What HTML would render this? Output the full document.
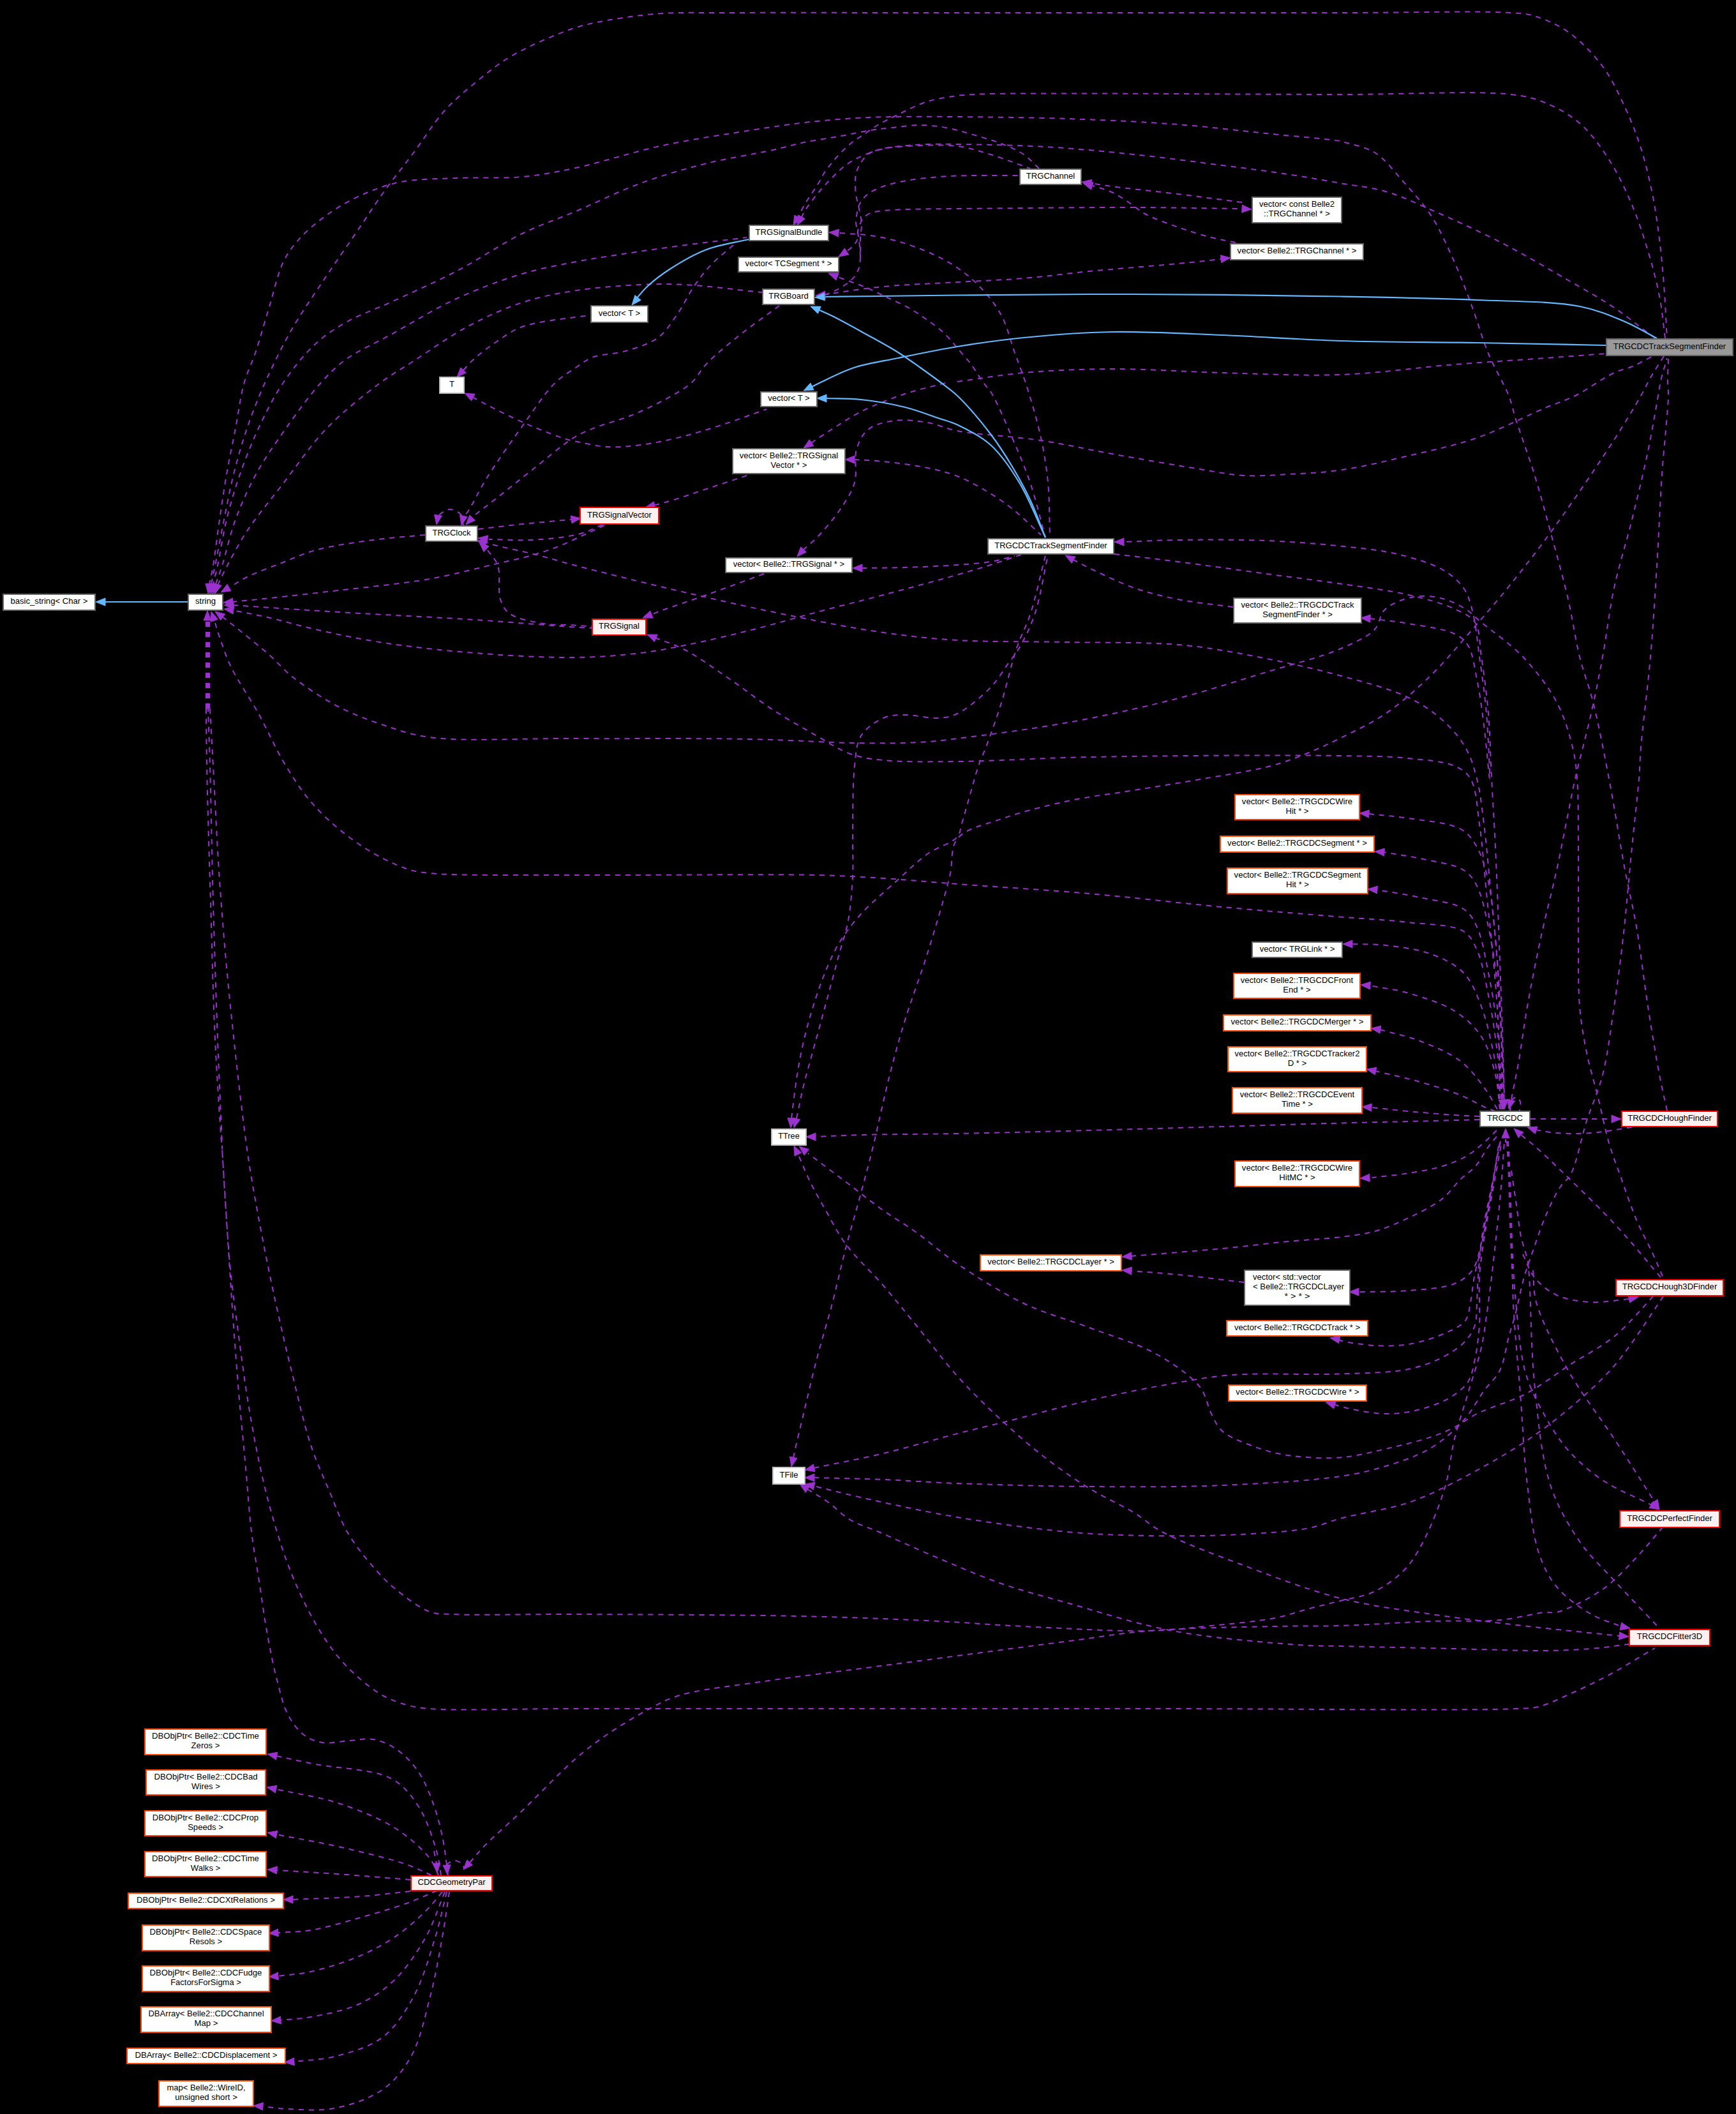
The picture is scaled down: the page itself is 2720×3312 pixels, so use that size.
<!DOCTYPE html><html><head><meta charset="utf-8"><style>html,body{margin:0;padding:0;background:#000;width:2720px;height:3312px;overflow:hidden}svg{display:block}text{font-family:"Liberation Sans",sans-serif;font-size:13.2px;fill:#000}</style></head><body>
<svg width="2720" height="3312" viewBox="0 0 2720 3312">
<rect width="2720" height="3312" fill="#000"/>
<g fill="none" stroke="#9a32cd" stroke-width="2" stroke-dasharray="8.2,7.8">
<path d="M1946.0 317.0 C1912.7 312.7 1879.7 308.1 1846.0 304.0 C1811.7 299.8 1766.7 295.4 1742.0 292.0 C1728.3 290.1 1720.7 288.7 1710.0 287.0"/>
<path d="M1936.0 380.0 C1923.3 377.3 1911.6 375.5 1898.0 372.0 C1881.9 367.8 1863.2 362.1 1846.0 356.0 C1828.5 349.8 1807.7 342.5 1794.0 335.0 C1784.1 329.6 1778.4 323.5 1770.0 318.0 C1761.1 312.2 1751.8 305.5 1742.0 301.0 C1732.4 296.6 1722.0 294.3 1712.0 291.0"/>
<path d="M726.0 823.0 C724.7 817.3 725.4 810.1 722.0 806.0 C718.5 801.7 710.5 798.0 705.0 798.0 C699.8 798.0 693.2 802.5 690.0 805.0 C688.0 806.6 687.3 808.3 686.0 810.0"/>
<path d="M666.0 838.0 C638.7 840.7 611.9 842.2 584.0 846.0 C554.6 850.0 519.8 854.9 494.0 862.0 C473.7 867.6 458.7 875.1 441.0 882.0 C423.0 889.0 401.7 896.7 387.0 904.0 C376.2 909.4 369.0 914.7 360.0 920.0"/>
<path d="M947.0 823.0 C935.7 828.3 925.0 833.5 913.0 839.0 C899.5 845.1 884.6 852.5 870.0 858.0 C855.6 863.5 840.7 868.0 826.0 872.0 C811.7 875.9 800.6 877.9 783.0 882.0 C754.8 888.5 712.3 900.1 673.0 907.0 C628.6 914.8 574.2 919.7 530.0 925.0 C491.8 929.5 453.4 933.7 423.0 937.0 C400.4 939.4 383.7 941.0 364.0 943.0"/>
<path d="M749.5 829.0 C769.3 826.7 789.8 824.0 809.0 822.0 C826.9 820.1 845.5 818.4 861.0 817.0 C873.5 815.8 883.7 815.0 895.0 814.0"/>
<path d="M944.0 822.0 C933.7 826.3 923.8 831.7 913.0 835.0 C901.9 838.4 890.9 840.2 878.0 842.0 C862.4 844.1 844.0 845.5 826.0 846.0 C806.7 846.6 786.0 845.3 766.0 845.0"/>
<path d="M1481.0 600.0 C1460.0 605.7 1439.3 609.8 1418.0 617.0 C1395.3 624.6 1369.9 634.5 1349.0 645.0 C1330.3 654.4 1312.7 666.7 1298.0 676.0 C1286.6 683.3 1278.0 689.3 1268.0 696.0"/>
<path d="M1170.0 745.0 C1149.0 752.0 1126.9 759.4 1107.0 766.0 C1089.1 772.0 1071.1 778.4 1056.0 783.0 C1044.1 786.6 1034.7 789.0 1024.0 792.0"/>
<path d="M1197.0 899.0 C1167.0 910.0 1135.0 922.0 1107.0 932.0 C1082.5 940.7 1053.5 950.3 1038.0 956.0 C1030.0 958.9 1026.0 960.7 1020.0 963.0"/>
<path d="M1932.0 951.0 C1903.3 947.0 1872.9 944.4 1846.0 939.0 C1821.6 934.1 1799.8 929.0 1777.0 921.0 C1753.4 912.8 1724.8 898.5 1707.0 890.0 C1695.8 884.6 1689.0 880.7 1680.0 876.0"/>
<path d="M325.5 976.0 L325.5 974.0"/>
<path d="M680.0 2900.0 L684.0 2920.0"/>
<path d="M691.0 2938.0 C688.7 2925.3 688.2 2914.4 684.0 2900.0 C678.1 2879.7 668.1 2848.7 655.0 2829.0 C643.4 2811.5 632.0 2796.5 612.0 2786.0 C583.9 2771.2 526.9 2770.6 494.0 2764.0 C470.3 2759.3 453.3 2755.3 433.0 2751.0"/>
<path d="M687.0 2938.0 C682.3 2929.0 680.5 2920.5 673.0 2911.0 C661.6 2896.5 640.4 2877.6 619.0 2864.0 C594.0 2848.2 560.9 2835.1 530.0 2825.0 C498.6 2814.7 464.7 2810.3 432.0 2803.0"/>
<path d="M676.0 2938.0 C663.0 2932.3 653.5 2926.7 637.0 2921.0 C610.4 2911.8 564.9 2901.0 530.0 2893.0 C497.0 2885.5 465.3 2880.3 433.0 2874.0"/>
<path d="M643.0 2945.0 C605.3 2942.0 566.2 2938.6 530.0 2936.0 C496.4 2933.6 465.3 2932.0 433.0 2930.0"/>
<path d="M643.0 2963.0 C617.3 2965.7 593.9 2968.9 566.0 2971.0 C533.1 2973.5 494.0 2974.3 458.0 2976.0"/>
<path d="M685.0 2962.0 C669.0 2968.7 655.0 2975.5 637.0 2982.0 C614.9 2990.0 587.1 2998.0 562.0 3005.0 C537.1 3012.0 509.9 3020.3 487.0 3024.0 C468.2 3027.1 452.3 3026.7 435.0 3028.0"/>
<path d="M693.0 2964.0 C684.3 2974.0 677.5 2983.7 667.0 2994.0 C653.7 3007.1 635.5 3023.2 618.0 3035.0 C600.5 3046.8 582.5 3056.3 562.0 3065.0 C539.2 3074.7 509.9 3083.8 487.0 3089.0 C468.3 3093.2 452.3 3093.7 435.0 3096.0"/>
<path d="M697.0 2964.0 C687.0 2987.7 679.8 3012.4 667.0 3035.0 C653.7 3058.5 636.6 3084.0 618.0 3102.0 C601.2 3118.2 582.9 3130.4 562.0 3140.0 C539.6 3150.2 509.4 3155.9 487.0 3160.0 C469.4 3163.2 455.0 3163.3 439.0 3165.0"/>
<path d="M700.0 2964.0 C694.0 2987.7 689.7 3009.9 682.0 3035.0 C673.0 3064.1 662.9 3100.9 648.0 3128.0 C634.6 3152.5 619.7 3176.3 599.0 3192.0 C578.3 3207.7 548.4 3215.7 524.0 3222.0 C502.2 3227.6 481.3 3227.3 460.0 3230.0"/>
<path d="M704.0 2964.0 C700.3 2987.7 697.5 3009.8 693.0 3035.0 C687.8 3064.0 682.1 3097.1 674.0 3128.0 C665.8 3159.5 658.3 3196.4 644.0 3222.0 C632.0 3243.3 617.9 3260.7 599.0 3274.0 C578.6 3288.4 549.4 3298.1 524.0 3303.0 C499.7 3307.7 470.7 3304.9 450.0 3304.0 C434.9 3303.3 424.0 3301.3 411.0 3300.0"/>
<path d="M702.0 2938.0 C701.3 2932.7 698.1 2925.9 700.0 2922.0 C701.8 2918.4 707.9 2915.3 712.0 2915.0 C715.9 2914.7 721.5 2917.6 724.0 2920.0 C725.9 2921.9 726.0 2924.7 727.0 2927.0"/>
<path d="M2357.0 1738.0 C2356.3 1720.0 2355.9 1705.0 2355.0 1684.0 C2353.8 1654.4 2352.0 1612.7 2350.0 1577.0 C2348.0 1541.3 2346.2 1504.0 2343.0 1470.0 C2340.1 1438.9 2337.8 1406.7 2332.0 1381.0 C2327.4 1360.5 2322.4 1341.4 2314.0 1327.0 C2307.2 1315.3 2301.3 1306.1 2289.0 1299.0 C2270.6 1288.4 2232.6 1286.1 2207.0 1282.0 C2184.7 1278.5 2165.0 1277.3 2144.0 1275.0"/>
<path d="M2357.0 1738.0 C2356.0 1708.3 2355.7 1680.1 2354.0 1649.0 C2352.2 1614.7 2349.9 1575.2 2346.0 1541.0 C2342.4 1509.8 2337.9 1479.1 2332.0 1452.0 C2326.9 1428.7 2322.3 1403.8 2314.0 1388.0 C2308.2 1376.9 2303.4 1369.6 2293.0 1363.0 C2277.7 1353.3 2246.8 1349.8 2225.0 1345.0 C2205.3 1340.7 2187.0 1338.3 2168.0 1335.0"/>
<path d="M2355.0 1738.0 C2352.0 1696.3 2350.4 1651.1 2346.0 1613.0 C2342.3 1580.7 2337.7 1552.0 2332.0 1524.0 C2326.8 1498.6 2322.5 1469.8 2314.0 1452.0 C2308.2 1439.8 2303.7 1431.2 2293.0 1424.0 C2277.8 1413.8 2247.8 1411.0 2225.0 1406.0 C2202.4 1401.0 2179.7 1398.0 2157.0 1394.0"/>
<path d="M2352.0 1738.0 C2349.0 1714.0 2347.7 1691.1 2343.0 1666.0 C2337.8 1637.8 2330.7 1602.3 2321.0 1577.0 C2313.2 1556.5 2306.2 1537.7 2293.0 1524.0 C2280.0 1510.5 2261.8 1502.1 2243.0 1495.0 C2221.8 1487.0 2193.3 1483.6 2171.0 1481.0 C2152.1 1478.8 2135.7 1479.7 2118.0 1479.0"/>
<path d="M2350.0 1738.0 C2347.7 1720.0 2347.5 1702.2 2343.0 1684.0 C2338.2 1664.3 2332.1 1640.9 2321.0 1624.0 C2310.4 1607.9 2296.2 1594.9 2279.0 1584.0 C2259.2 1571.4 2230.3 1562.8 2207.0 1556.0 C2186.1 1549.9 2166.3 1548.0 2146.0 1544.0"/>
<path d="M2346.0 1738.0 C2340.3 1728.3 2336.5 1719.4 2329.0 1709.0 C2318.9 1695.0 2305.4 1675.7 2289.0 1663.0 C2271.2 1649.2 2246.6 1639.4 2225.0 1631.0 C2204.3 1622.9 2183.0 1619.0 2162.0 1613.0"/>
<path d="M2343.0 1741.0 C2337.0 1738.7 2331.9 1737.1 2325.0 1734.0 C2315.0 1729.6 2303.0 1721.7 2289.0 1716.0 C2270.9 1708.6 2246.9 1701.3 2225.0 1695.0 C2202.3 1688.5 2178.3 1683.7 2155.0 1678.0"/>
<path d="M2318.0 1749.0 C2305.0 1748.3 2294.0 1748.0 2279.0 1747.0 C2258.6 1745.6 2229.8 1743.1 2207.0 1741.0 C2186.3 1739.1 2167.7 1737.0 2148.0 1735.0"/>
<path d="M2398.0 1753.0 C2417.7 1753.0 2436.6 1753.0 2457.0 1753.0 C2479.1 1753.0 2503.0 1753.0 2526.0 1753.0"/>
<path d="M2557.0 1766.0 C2535.7 1769.0 2513.5 1773.6 2493.0 1775.0 C2474.3 1776.3 2454.9 1776.2 2439.0 1775.0 C2426.3 1774.1 2416.3 1771.7 2405.0 1770.0"/>
<path d="M2602.0 2001.0 C2578.7 1974.0 2556.4 1946.2 2532.0 1920.0 C2507.4 1893.5 2478.2 1865.5 2455.0 1843.0 C2436.4 1825.0 2417.5 1806.8 2404.0 1795.0 C2395.6 1787.7 2390.0 1783.7 2383.0 1778.0"/>
<path d="M1949.0 2009.0 C1914.7 2005.0 1877.5 2000.1 1846.0 1997.0 C1819.3 1994.4 1796.7 1993.0 1772.0 1991.0"/>
<path d="M2345.0 1771.0 C2338.0 1777.7 2331.6 1784.5 2324.0 1791.0 C2316.0 1797.9 2307.9 1805.2 2298.0 1811.0 C2286.9 1817.5 2273.9 1822.7 2260.0 1827.0 C2244.0 1832.0 2225.1 1835.0 2207.0 1838.0 C2188.4 1841.1 2169.0 1842.7 2150.0 1845.0"/>
<path d="M2351.0 1788.0 C2349.0 1797.7 2347.0 1806.4 2345.0 1817.0 C2342.6 1829.7 2340.7 1844.4 2338.0 1859.0 C2335.1 1875.0 2331.0 1893.5 2328.0 1909.0 C2325.4 1922.5 2324.3 1934.1 2321.0 1947.0 C2317.4 1961.0 2314.8 1979.1 2307.0 1990.0 C2300.1 1999.6 2291.3 2005.8 2279.0 2011.0 C2261.2 2018.5 2231.6 2019.8 2207.0 2022.0 C2181.3 2024.3 2154.3 2023.3 2128.0 2024.0"/>
<path d="M2361.0 1788.0 C2362.0 1807.0 2363.2 1825.0 2364.0 1845.0 C2364.9 1867.4 2365.2 1892.3 2366.0 1916.0 C2366.8 1939.7 2368.0 1963.2 2369.0 1987.0 C2370.0 2011.2 2370.3 2032.5 2372.0 2060.0 C2374.2 2095.7 2378.6 2140.5 2382.0 2183.0 C2385.6 2228.9 2387.6 2281.9 2393.0 2326.0 C2397.7 2364.4 2401.2 2404.2 2411.0 2433.0 C2418.3 2454.4 2426.1 2470.4 2439.0 2486.0 C2452.9 2502.7 2474.8 2518.4 2493.0 2529.0 C2508.6 2538.1 2524.3 2541.7 2540.0 2548.0"/>
<path d="M2363.0 1788.0 C2364.0 1807.0 2365.2 1825.0 2366.0 1845.0 C2366.9 1867.4 2367.2 1892.3 2368.0 1916.0 C2368.8 1939.7 2369.7 1965.1 2371.0 1987.0 C2372.1 2006.0 2372.8 2019.2 2375.0 2040.0 C2378.2 2070.1 2380.9 2118.2 2390.0 2150.0 C2397.5 2176.3 2409.3 2198.0 2421.0 2219.0 C2431.8 2238.3 2442.6 2255.7 2457.0 2272.0 C2472.3 2289.2 2490.4 2305.2 2511.0 2319.0 C2533.6 2334.2 2562.3 2345.0 2588.0 2358.0"/>
<path d="M2368.0 1834.0 C2370.7 1852.0 2373.4 1870.4 2376.0 1888.0 C2378.4 1904.7 2379.9 1922.0 2383.0 1937.0 C2385.7 1950.0 2390.8 1961.8 2393.0 1973.0 C2394.8 1982.6 2395.0 1987.2 2396.0 2000.0 C2398.5 2031.7 2398.5 2110.5 2404.0 2165.0 C2409.5 2219.1 2414.4 2281.2 2429.0 2326.0 C2440.5 2361.1 2457.2 2389.1 2475.0 2415.0 C2491.0 2438.4 2509.6 2454.8 2529.0 2476.0 C2550.9 2499.9 2576.3 2526.0 2600.0 2551.0"/>
<path d="M2386.0 1965.0 C2392.0 1977.0 2395.5 1990.5 2404.0 2001.0 C2412.9 2012.0 2425.2 2022.5 2439.0 2029.0 C2454.3 2036.2 2474.4 2038.9 2493.0 2040.0 C2512.4 2041.1 2533.0 2036.7 2553.0 2035.0"/>
<path d="M2402.0 1990.0 C2403.7 2006.7 2401.7 2020.7 2407.0 2040.0 C2415.1 2069.5 2437.3 2112.1 2457.0 2147.0 C2477.6 2183.5 2506.0 2219.0 2529.0 2254.0 C2550.9 2287.3 2571.0 2319.3 2592.0 2352.0"/>
<path d="M2359.0 1790.0 L2359.0 1785.0"/>
<path d="M2366.0 1740.0 C2366.7 1734.7 2365.7 1727.5 2368.0 1724.0 C2369.7 1721.3 2373.7 1718.6 2376.0 1719.0 C2378.3 1719.4 2381.0 1723.0 2382.0 1726.0 C2383.2 1729.7 2381.3 1735.3 2381.0 1740.0"/>
<path d="M1290.0 462.0 C1298.3 460.7 1304.6 459.5 1315.0 458.0 C1332.3 455.5 1358.0 451.5 1384.0 449.0 C1417.6 445.8 1462.4 444.2 1500.0 442.0 C1535.6 439.9 1569.5 438.8 1604.0 436.0 C1638.5 433.2 1670.1 428.6 1707.0 425.0 C1749.8 420.9 1807.9 416.6 1846.0 413.0 C1872.7 410.5 1891.3 408.3 1914.0 406.0"/>
<path d="M1315.0 402.0 C1318.3 399.7 1321.7 397.5 1325.0 395.0 C1328.4 392.5 1332.0 390.1 1335.0 387.0 C1338.1 383.8 1341.5 380.1 1343.0 376.0 C1344.5 371.8 1343.2 366.2 1344.0 362.0 C1344.7 358.3 1345.5 355.4 1347.0 352.0 C1348.7 348.1 1350.8 343.2 1354.0 340.0 C1357.2 336.8 1361.4 334.7 1366.0 333.0 C1371.5 331.1 1377.7 330.8 1385.0 330.0 C1394.9 328.9 1405.9 328.5 1420.0 328.0 C1441.2 327.3 1465.3 327.3 1500.0 327.0 C1564.6 326.4 1696.0 324.8 1777.0 325.0 C1840.3 325.1 1889.7 326.3 1946.0 327.0"/>
<path d="M2609.0 530.0 C2606.0 508.0 2604.3 486.3 2600.0 464.0 C2595.5 440.6 2589.1 416.6 2582.0 393.0 C2574.8 368.9 2567.0 344.6 2557.0 321.0 C2546.8 296.9 2535.0 271.7 2521.0 250.0 C2507.5 229.2 2492.5 208.1 2475.0 193.0 C2458.8 179.0 2439.5 168.6 2421.0 161.0 C2403.8 154.0 2392.7 151.0 2368.0 148.0 C2313.2 141.4 2205.1 148.1 2100.0 148.0 C1949.7 147.9 1631.2 145.2 1552.0 147.0 C1530.1 147.5 1519.2 148.3 1510.0 149.0 C1505.5 149.3 1504.5 149.3 1500.0 150.0 C1490.1 151.4 1468.5 154.1 1453.0 159.0 C1436.5 164.2 1418.1 174.2 1404.0 181.0 C1393.0 186.3 1384.2 190.5 1375.0 196.0 C1366.2 201.2 1357.3 208.1 1350.0 213.0 C1344.4 216.8 1340.3 218.7 1335.0 223.0 C1327.9 228.7 1319.2 237.2 1312.0 245.0 C1304.8 252.8 1297.1 262.4 1292.0 270.0 C1288.1 275.8 1286.8 279.7 1283.0 286.0 C1277.4 295.3 1267.5 308.9 1261.0 320.0 C1255.0 330.2 1250.3 340.0 1245.0 350.0"/>
<path d="M2593.0 530.0 C2571.7 514.0 2551.4 497.0 2529.0 482.0 C2506.1 466.6 2483.5 454.3 2457.0 439.0 C2425.0 420.5 2386.0 397.5 2350.0 379.0 C2314.7 360.9 2275.3 343.0 2243.0 329.0 C2216.8 317.6 2195.3 307.0 2171.0 300.0 C2147.6 293.2 2124.5 291.3 2100.0 287.0 C2073.7 282.3 2046.9 277.4 2018.0 273.0 C1985.7 268.0 1951.9 263.8 1915.0 259.0 C1872.4 253.5 1823.1 246.8 1777.0 242.0 C1730.8 237.2 1684.3 232.7 1638.0 230.0 C1592.0 227.3 1533.9 226.5 1500.0 226.0 C1480.2 225.7 1467.2 225.6 1453.0 226.0 C1441.3 226.4 1431.8 227.0 1421.0 228.0 C1409.8 229.0 1397.5 229.8 1387.0 232.0 C1377.7 234.0 1370.0 236.4 1361.0 240.0 C1350.7 244.1 1338.4 249.7 1329.0 256.0 C1320.3 261.8 1313.5 268.7 1306.0 276.0 C1298.1 283.7 1290.3 292.2 1283.0 301.0 C1275.6 309.9 1267.6 320.1 1262.0 329.0 C1257.4 336.3 1254.7 343.0 1251.0 350.0"/>
<path d="M740.0 622.0 C753.3 629.0 765.6 635.9 780.0 643.0 C796.6 651.2 815.9 660.4 834.0 668.0 C851.6 675.4 875.2 684.4 887.0 688.0 C892.7 689.7 894.2 689.8 900.0 691.0 C911.5 693.3 934.6 699.0 952.0 700.0 C969.3 701.0 985.5 699.4 1004.0 697.0 C1025.5 694.2 1050.1 688.8 1073.0 683.0 C1096.1 677.1 1120.0 669.3 1142.0 662.0 C1162.5 655.2 1181.3 648.0 1201.0 641.0"/>
<path d="M1350.0 890.0 C1372.7 889.7 1394.3 889.8 1418.0 889.0 C1444.1 888.2 1475.8 886.8 1500.0 885.0 C1519.3 883.6 1536.1 882.6 1552.0 880.0 C1565.7 877.7 1577.3 874.0 1590.0 871.0"/>
<path d="M323.0 1110.0 C323.3 1140.0 323.3 1163.6 324.0 1200.0 C325.1 1256.1 327.8 1342.6 330.0 1414.0 C332.2 1485.6 333.7 1561.5 337.0 1629.0 C339.9 1689.3 347.3 1800.0 348.0 1800.0 C348.7 1800.0 343.2 1689.3 341.0 1629.0 C338.5 1561.4 336.0 1485.6 334.0 1414.0 C332.0 1342.6 330.6 1256.1 329.0 1200.0 C328.0 1163.6 327.0 1140.0 326.0 1110.0"/>
<path d="M1248.0 1752.0 C1251.7 1735.0 1254.9 1718.0 1259.0 1701.0 C1263.2 1683.7 1268.3 1666.2 1273.0 1649.0 C1277.6 1631.9 1282.4 1615.1 1287.0 1598.0 C1291.7 1580.8 1296.3 1563.3 1301.0 1546.0 C1305.7 1528.7 1310.3 1511.3 1315.0 1494.0 C1319.7 1476.7 1325.6 1460.7 1329.0 1442.0 C1332.9 1420.8 1334.8 1396.0 1336.0 1373.0 C1337.2 1350.0 1335.6 1329.3 1336.0 1304.0 C1336.4 1272.9 1335.7 1227.8 1339.0 1200.0 C1341.3 1181.1 1341.2 1165.6 1349.0 1153.0 C1356.5 1140.8 1371.7 1130.4 1384.0 1125.0 C1394.8 1120.3 1405.4 1120.3 1418.0 1120.0 C1433.5 1119.6 1455.1 1126.0 1470.0 1125.0 C1481.4 1124.2 1489.3 1123.2 1500.0 1118.0 C1515.7 1110.4 1538.1 1091.4 1552.0 1077.0 C1563.8 1064.8 1571.9 1050.3 1580.0 1039.0 C1586.4 1030.1 1591.3 1024.8 1597.0 1015.0 C1604.9 1001.3 1614.1 983.3 1621.0 963.0 C1629.9 936.9 1635.0 901.0 1642.0 870.0"/>
<path d="M1240.0 1752.0 C1240.7 1746.7 1241.1 1742.9 1242.0 1736.0 C1243.6 1723.6 1246.2 1701.3 1249.0 1684.0 C1251.8 1666.6 1255.0 1649.3 1259.0 1632.0 C1263.0 1614.6 1267.7 1597.2 1273.0 1580.0 C1278.4 1562.6 1284.1 1545.1 1291.0 1528.0 C1298.0 1510.7 1305.3 1493.0 1315.0 1477.0 C1324.7 1461.0 1335.5 1446.9 1349.0 1432.0 C1364.7 1414.6 1386.9 1396.3 1405.0 1380.0 C1421.5 1365.1 1436.5 1349.8 1453.0 1338.0 C1468.2 1327.1 1491.7 1321.2 1500.0 1311.0 C1505.3 1304.5 1504.4 1298.5 1507.0 1290.0 C1511.0 1277.1 1516.5 1256.6 1521.0 1241.0 C1525.1 1226.7 1528.7 1212.5 1533.0 1200.0 C1536.8 1189.1 1540.5 1182.1 1545.0 1170.0 C1551.8 1151.8 1561.4 1125.4 1569.0 1101.0 C1577.4 1074.0 1584.5 1039.9 1593.0 1015.0 C1599.7 995.3 1607.4 983.1 1614.0 963.0 C1622.7 936.7 1630.0 901.0 1638.0 870.0"/>
<path d="M2368.0 1722.0 C2371.7 1703.3 2375.3 1686.9 2379.0 1666.0 C2383.6 1639.8 2387.5 1608.0 2393.0 1577.0 C2399.0 1542.9 2406.4 1505.6 2414.0 1470.0 C2421.7 1434.3 2431.6 1397.1 2439.0 1363.0 C2445.8 1332.0 2451.7 1300.0 2457.0 1274.0 C2461.1 1253.8 2463.3 1240.8 2468.0 1220.0 C2474.4 1191.3 2485.6 1150.9 2493.0 1118.0 C2499.8 1087.4 2505.3 1060.2 2511.0 1029.0 C2517.3 994.8 2521.4 956.7 2529.0 921.0 C2536.7 885.1 2548.2 849.7 2557.0 814.0 C2565.8 778.4 2574.9 740.9 2582.0 707.0 C2588.3 676.6 2594.5 639.7 2598.0 620.0 C2599.8 609.9 2600.1 605.5 2602.0 597.0 C2604.4 586.3 2608.7 573.0 2612.0 561.0"/>
<path d="M1772.0 1968.0 C1819.7 1964.0 1871.3 1960.2 1915.0 1956.0 C1952.2 1952.5 1985.6 1948.1 2018.0 1945.0 C2046.9 1942.2 2075.6 1941.1 2100.0 1938.0 C2119.9 1935.5 2136.3 1933.9 2154.0 1929.0 C2172.0 1924.0 2189.6 1916.3 2207.0 1908.0 C2225.0 1899.4 2245.8 1889.2 2260.0 1878.0 C2271.7 1868.8 2278.8 1856.9 2288.0 1848.0 C2296.1 1840.1 2304.9 1835.1 2312.0 1827.0 C2319.4 1818.5 2324.6 1806.7 2331.0 1798.0 C2336.6 1790.3 2342.3 1784.0 2348.0 1777.0"/>
<path d="M1026.0 999.0 C1041.7 1005.3 1056.3 1009.3 1073.0 1018.0 C1094.3 1029.1 1119.2 1047.4 1142.0 1063.0 C1165.2 1078.8 1187.7 1096.8 1211.0 1112.0 C1233.7 1126.8 1258.5 1140.8 1280.0 1153.0 C1298.4 1163.4 1314.2 1174.7 1332.0 1181.0 C1348.9 1187.0 1363.1 1188.8 1384.0 1191.0 C1414.9 1194.2 1455.8 1193.4 1500.0 1193.0 C1559.1 1192.5 1627.0 1187.6 1707.0 1186.0 C1817.2 1183.9 2010.2 1182.6 2100.0 1184.0 C2146.9 1184.8 2174.9 1184.7 2207.0 1188.0 C2233.5 1190.7 2261.9 1192.4 2279.0 1200.0 C2290.3 1205.1 2297.8 1209.7 2304.0 1220.0 C2313.4 1235.5 2314.1 1264.8 2318.0 1291.0 C2322.8 1323.1 2325.3 1363.1 2329.0 1399.0 C2332.7 1434.8 2336.8 1470.3 2340.0 1506.0 C2343.2 1541.6 2346.3 1577.3 2348.0 1613.0 C2349.7 1648.6 2349.3 1684.3 2350.0 1720.0"/>
<path d="M329.0 1110.0 C330.7 1140.0 332.0 1164.9 334.0 1200.0 C336.8 1249.5 339.8 1319.4 344.0 1379.0 C348.2 1438.4 352.6 1493.1 359.0 1557.0 C366.5 1631.8 377.9 1735.5 387.0 1800.0 C393.1 1843.0 398.2 1870.0 405.0 1907.0 C412.4 1947.1 421.0 1990.4 430.0 2032.0 C439.0 2073.7 449.1 2117.0 459.0 2157.0 C468.2 2194.1 476.5 2232.2 487.0 2264.0 C495.8 2290.7 506.2 2312.8 516.0 2336.0 C525.3 2358.0 532.5 2380.2 544.0 2400.0 C555.3 2419.4 570.5 2438.4 584.0 2454.0 C595.6 2467.4 605.4 2477.9 619.0 2489.0 C634.5 2501.7 656.1 2518.8 673.0 2525.0 C685.6 2529.6 692.2 2528.1 709.0 2529.0 C747.5 2531.1 826.7 2528.7 900.0 2529.0 C999.3 2529.4 1150.2 2529.8 1251.0 2532.0 C1327.3 2533.7 1387.8 2536.0 1452.0 2539.0 C1511.1 2541.8 1564.7 2546.3 1622.0 2549.0 C1680.6 2551.7 1751.0 2556.1 1800.0 2555.0 C1834.5 2554.2 1857.1 2551.1 1888.0 2548.0 C1922.4 2544.6 1967.0 2540.8 1997.0 2535.0 C2018.6 2530.8 2034.3 2524.6 2052.0 2520.0 C2068.5 2515.7 2083.7 2512.2 2100.0 2508.0 C2117.0 2503.6 2135.7 2501.7 2152.0 2494.0 C2169.1 2486.0 2186.9 2473.4 2200.0 2460.0 C2212.3 2447.5 2219.8 2434.4 2229.0 2417.0 C2241.4 2393.6 2255.6 2358.4 2264.0 2330.0 C2271.7 2304.2 2272.9 2278.8 2279.0 2254.0 C2285.0 2229.8 2293.0 2206.8 2300.0 2183.0 C2307.0 2159.1 2315.6 2135.1 2321.0 2111.0 C2326.2 2087.4 2329.1 2060.2 2332.0 2040.0 C2334.1 2025.1 2335.2 2015.9 2337.0 2001.0 C2339.4 1980.9 2342.5 1953.7 2345.0 1930.0 C2347.5 1906.3 2350.0 1882.7 2352.0 1859.0 C2354.0 1835.3 2355.3 1811.7 2357.0 1788.0"/>
<path d="M700.0 2922.0 C698.0 2908.7 696.9 2896.2 694.0 2882.0 C690.6 2865.5 686.3 2846.5 680.0 2829.0 C673.4 2810.8 665.7 2790.4 655.0 2775.0 C645.1 2760.8 631.8 2747.5 619.0 2739.0 C608.0 2731.7 596.0 2727.0 584.0 2725.0 C572.3 2723.1 560.5 2726.2 548.0 2727.0 C534.3 2727.9 517.7 2732.1 505.0 2730.0 C494.2 2728.2 484.6 2724.5 476.0 2718.0 C466.2 2710.6 457.7 2698.8 451.0 2686.0 C443.1 2670.9 439.1 2651.4 434.0 2632.0 C428.2 2610.1 423.6 2586.1 419.0 2561.0 C413.8 2532.8 409.4 2499.2 405.0 2471.0 C401.1 2445.9 397.1 2425.7 394.0 2400.0 C390.3 2369.6 388.1 2333.9 385.0 2300.0 C381.8 2264.9 378.3 2231.3 375.0 2193.0 C371.2 2148.8 367.1 2094.2 364.0 2050.0 C361.3 2011.8 359.5 1981.2 357.0 1943.0 C354.2 1898.8 347.9 1800.0 348.0 1800.0 C348.1 1800.0 355.1 1927.0 360.0 1979.0 C363.8 2019.3 368.1 2049.0 373.0 2086.0 C378.3 2126.1 384.2 2171.0 391.0 2211.0 C397.3 2248.1 404.3 2284.8 412.0 2318.0 C418.8 2347.3 425.9 2373.8 434.0 2400.0 C441.6 2424.7 449.2 2447.5 459.0 2471.0 C469.1 2495.2 481.4 2521.2 494.0 2543.0 C505.3 2562.5 517.2 2580.6 530.0 2596.0 C541.4 2609.8 553.6 2621.5 566.0 2632.0 C577.4 2641.6 588.8 2650.4 601.0 2657.0 C612.5 2663.2 624.8 2667.7 637.0 2671.0 C648.8 2674.3 655.8 2675.6 673.0 2677.0 C716.0 2680.6 799.3 2677.0 900.0 2677.0 C1100.6 2677.0 1533.3 2677.0 1800.0 2677.0 C2013.3 2677.0 2301.0 2680.3 2376.0 2677.0 C2394.3 2676.2 2397.6 2677.0 2410.0 2674.0 C2426.2 2670.1 2445.7 2660.2 2464.0 2652.0 C2483.4 2643.3 2502.7 2633.9 2523.0 2623.0 C2545.6 2610.9 2569.7 2595.7 2593.0 2582.0"/>
<path d="M736.0 2918.0 C744.7 2908.3 751.5 2899.7 762.0 2889.0 C776.5 2874.3 796.2 2857.9 816.0 2839.0 C841.1 2815.2 875.2 2778.6 900.0 2757.0 C918.0 2741.3 930.9 2731.5 949.0 2719.0 C969.7 2704.8 996.9 2688.1 1018.0 2677.0 C1034.9 2668.1 1044.9 2662.1 1065.0 2656.0 C1097.6 2646.2 1151.6 2640.9 1198.0 2634.0 C1248.6 2626.5 1304.0 2620.0 1357.0 2613.0 C1410.0 2606.0 1463.0 2599.0 1516.0 2592.0 C1569.0 2585.0 1625.2 2577.5 1675.0 2571.0 C1719.2 2565.3 1753.5 2558.8 1800.0 2555.0 C1858.1 2550.3 1941.9 2549.2 1997.0 2548.0 C2036.8 2547.1 2062.9 2548.1 2100.0 2547.0 C2143.8 2545.7 2198.8 2541.5 2243.0 2540.0 C2281.2 2538.7 2318.1 2541.0 2350.0 2538.0 C2376.2 2535.6 2405.1 2527.3 2421.0 2526.0 C2428.9 2525.3 2431.3 2527.8 2439.0 2526.0 C2455.3 2522.1 2489.8 2504.8 2511.0 2490.0 C2531.2 2475.9 2547.9 2456.7 2564.0 2440.0 C2578.7 2424.7 2590.7 2409.3 2604.0 2394.0"/>
<path d="M1252.0 1812.0 C1258.0 1825.7 1263.3 1839.4 1270.0 1853.0 C1276.9 1867.1 1284.6 1880.2 1293.0 1895.0 C1302.7 1911.9 1311.6 1930.9 1325.0 1949.0 C1340.8 1970.5 1365.2 1992.3 1384.0 2014.0 C1402.1 2035.0 1417.8 2054.8 1436.0 2077.0 C1456.3 2101.8 1477.6 2131.1 1500.0 2156.0 C1522.0 2180.4 1545.6 2203.3 1569.0 2225.0 C1591.6 2245.9 1614.5 2265.9 1638.0 2284.0 C1660.6 2301.4 1683.5 2317.5 1707.0 2332.0 C1729.9 2346.1 1756.6 2357.6 1777.0 2370.0 C1793.7 2380.2 1802.0 2389.8 1821.0 2400.0 C1850.7 2416.1 1898.7 2433.7 1942.0 2450.0 C1990.9 2468.4 2048.1 2490.7 2100.0 2504.0 C2148.4 2516.4 2195.2 2521.8 2243.0 2529.0 C2290.6 2536.1 2337.6 2541.4 2386.0 2547.0 C2435.9 2552.8 2487.3 2557.7 2538.0 2563.0"/>
<path d="M1275.0 2315.0 C1311.3 2316.0 1347.1 2316.5 1384.0 2318.0 C1422.1 2319.5 1455.8 2322.3 1500.0 2324.0 C1559.1 2326.2 1637.9 2328.5 1707.0 2329.0 C1776.2 2329.5 1847.7 2329.9 1915.0 2327.0 C1978.5 2324.3 2053.0 2320.0 2100.0 2313.0 C2129.4 2308.6 2148.1 2303.9 2171.0 2297.0 C2193.4 2290.2 2217.2 2282.4 2236.0 2272.0 C2252.5 2262.9 2267.6 2250.3 2279.0 2240.0 C2287.7 2232.1 2293.0 2225.9 2300.0 2217.0 C2308.4 2206.2 2316.4 2191.0 2325.0 2179.0 C2333.1 2167.7 2343.7 2159.8 2350.0 2147.0 C2357.4 2132.2 2359.6 2109.7 2364.0 2094.0 C2367.5 2081.4 2370.6 2072.9 2374.0 2060.0 C2378.5 2043.1 2382.9 2018.9 2388.0 2001.0 C2392.4 1985.7 2396.7 1974.0 2402.0 1959.0 C2408.2 1941.4 2415.4 1919.5 2423.0 1902.0 C2429.8 1886.4 2437.6 1870.1 2445.0 1859.0 C2450.3 1851.0 2456.0 1849.3 2461.0 1840.0 C2470.4 1822.5 2477.4 1782.8 2486.0 1756.0 C2494.1 1731.0 2504.2 1710.7 2511.0 1684.0 C2519.1 1652.2 2523.7 1612.7 2529.0 1577.0 C2534.3 1541.4 2538.6 1508.3 2543.0 1470.0 C2548.1 1425.8 2552.6 1371.2 2557.0 1327.0 C2560.8 1288.7 2565.6 1248.8 2568.0 1220.0 C2569.6 1200.5 2569.3 1191.6 2571.0 1171.0 C2573.9 1135.9 2581.8 1076.5 2586.0 1029.0 C2590.2 981.5 2593.0 933.7 2596.0 886.0 C2599.0 838.3 2600.9 788.9 2604.0 743.0 C2606.9 700.4 2613.5 644.8 2614.0 620.0 C2614.2 609.3 2613.1 605.5 2613.0 597.0 C2612.9 586.3 2613.7 573.0 2614.0 561.0"/>
<path d="M1265.0 2333.0 C1275.7 2339.7 1286.3 2345.4 1297.0 2353.0 C1308.6 2361.3 1319.0 2373.3 1332.0 2381.0 C1345.6 2389.1 1359.6 2392.5 1377.0 2400.0 C1401.1 2410.4 1432.7 2425.2 1463.0 2438.0 C1496.4 2452.1 1533.4 2468.6 1569.0 2481.0 C1604.0 2493.2 1638.2 2501.5 1675.0 2512.0 C1714.9 2523.4 1761.8 2538.2 1800.0 2547.0 C1831.7 2554.3 1854.1 2558.4 1888.0 2563.0 C1933.9 2569.3 2012.5 2575.8 2051.0 2578.0 C2072.1 2579.2 2078.6 2578.5 2100.0 2579.0 C2141.0 2579.9 2222.8 2581.8 2279.0 2583.0 C2329.1 2584.1 2381.6 2586.4 2421.0 2586.0 C2449.0 2585.7 2470.2 2584.8 2493.0 2583.0 C2513.7 2581.3 2532.3 2578.3 2552.0 2576.0"/>
<path d="M2606.0 2031.0 C2604.0 2034.0 2603.2 2035.4 2600.0 2040.0 C2589.4 2055.4 2554.3 2110.9 2529.0 2140.0 C2506.3 2166.1 2481.5 2187.4 2457.0 2208.0 C2433.8 2227.5 2412.7 2243.5 2386.0 2261.0 C2354.5 2281.6 2311.5 2305.6 2279.0 2322.0 C2253.0 2335.2 2233.8 2345.0 2207.0 2354.0 C2175.3 2364.6 2128.7 2371.3 2100.0 2379.0 C2080.4 2384.3 2070.8 2390.1 2051.0 2394.0 C2022.1 2399.7 1980.8 2402.0 1942.0 2404.0 C1897.8 2406.3 1846.0 2406.8 1800.0 2406.0 C1756.5 2405.3 1718.5 2404.1 1673.0 2400.0 C1619.7 2395.2 1555.5 2386.4 1500.0 2377.0 C1447.8 2368.2 1390.4 2355.3 1349.0 2346.0 C1319.9 2339.5 1299.7 2334.0 1275.0 2328.0"/>
<path d="M1300.0 429.0 C1307.0 431.7 1313.1 434.0 1321.0 437.0 C1331.2 440.8 1344.5 445.2 1356.0 450.0 C1367.5 454.8 1378.6 460.6 1390.0 466.0 C1401.6 471.5 1414.4 477.0 1425.0 483.0 C1434.5 488.4 1442.5 494.0 1451.0 500.0 C1459.5 506.0 1468.6 512.4 1476.0 519.0 C1482.8 525.1 1489.7 533.0 1494.0 538.0 C1496.6 541.0 1497.4 542.3 1500.0 545.5 C1504.8 551.3 1514.3 561.2 1521.0 570.0 C1528.0 579.3 1535.0 591.8 1541.0 600.0 C1545.4 606.0 1548.5 607.8 1553.0 615.0 C1562.0 629.6 1575.8 662.3 1586.0 686.0 C1596.1 709.3 1605.6 731.2 1614.0 756.0 C1623.1 783.0 1630.0 813.3 1638.0 842.0"/>
<path d="M1348.0 403.0 C1347.7 397.3 1347.5 391.6 1347.0 386.0 C1346.5 380.6 1345.8 374.7 1345.0 370.0 C1344.4 366.3 1343.6 363.6 1343.0 360.0 C1342.3 356.0 1341.0 351.4 1341.0 347.0 C1341.0 342.4 1342.2 337.1 1343.0 333.0 C1343.6 329.7 1343.8 327.1 1345.0 324.0 C1346.3 320.4 1348.4 316.4 1351.0 313.0 C1353.7 309.4 1357.2 305.8 1361.0 303.0 C1364.9 300.1 1369.4 298.1 1374.0 296.0 C1379.0 293.7 1383.8 291.9 1390.0 290.0 C1398.4 287.5 1409.2 284.9 1420.0 283.0 C1432.3 280.8 1446.6 279.3 1460.0 278.0 C1473.3 276.8 1483.8 276.0 1500.0 275.5 C1525.3 274.6 1564.7 275.2 1597.0 275.0"/>
<path d="M764.0 862.0 C769.3 870.0 776.5 875.9 780.0 886.0 C784.7 899.7 779.5 925.6 784.0 939.0 C787.1 948.4 790.3 955.2 798.0 961.0 C809.2 969.5 833.5 974.0 851.0 977.0 C867.5 979.9 885.9 978.5 900.0 979.5 C910.6 980.2 918.7 981.2 928.0 982.0"/>
<path d="M365.0 948.0 C384.3 949.3 399.4 950.4 423.0 952.0 C460.1 954.4 515.7 958.0 566.0 961.0 C622.1 964.3 686.6 967.3 744.0 971.0 C797.7 974.5 869.0 980.5 900.0 982.5 C913.1 983.3 918.7 983.5 928.0 984.0"/>
<path d="M1746.0 868.0 C1779.3 872.0 1810.0 875.4 1846.0 880.0 C1888.3 885.5 1940.0 893.0 1984.0 899.0 C2024.3 904.5 2062.2 908.9 2100.0 914.5 C2136.4 919.9 2175.1 924.5 2207.0 932.0 C2233.6 938.2 2260.3 945.2 2279.0 954.0 C2292.3 960.3 2303.9 964.3 2311.0 975.0 C2319.5 987.8 2317.9 1008.7 2321.0 1029.0 C2325.0 1054.9 2329.4 1087.3 2332.0 1118.0 C2334.8 1150.8 2335.2 1185.6 2337.0 1220.0 C2338.9 1255.2 2341.1 1286.8 2343.0 1327.0 C2345.5 1379.0 2347.9 1449.7 2350.0 1506.0 C2351.9 1556.3 2353.8 1609.6 2355.0 1649.0 C2355.9 1676.8 2356.3 1696.3 2357.0 1720.0"/>
<path d="M1600.0 869.0 C1584.0 874.3 1568.4 879.8 1552.0 885.0 C1535.1 890.3 1520.8 894.6 1500.0 900.5 C1469.0 909.3 1421.6 922.0 1384.0 932.0 C1348.4 941.5 1314.6 949.8 1280.0 959.0 C1245.6 968.2 1211.5 978.3 1177.0 987.0 C1142.5 995.7 1104.2 1004.7 1073.0 1011.0 C1047.7 1016.1 1029.4 1019.9 1004.0 1023.0 C973.0 1026.7 938.2 1029.6 900.0 1030.0 C853.3 1030.5 794.8 1027.0 744.0 1023.0 C695.2 1019.2 645.1 1013.8 601.0 1007.0 C562.6 1001.1 525.9 993.2 494.0 986.0 C467.8 980.1 445.5 973.2 423.0 968.0 C402.7 963.3 384.3 960.0 365.0 956.0"/>
<path d="M2354.0 1738.0 C2351.3 1708.3 2349.6 1678.7 2346.0 1649.0 C2342.3 1619.0 2337.7 1587.1 2332.0 1559.0 C2326.9 1533.8 2322.4 1505.9 2314.0 1488.0 C2308.2 1475.5 2304.4 1466.1 2293.0 1459.0 C2275.1 1448.0 2237.3 1448.7 2207.0 1445.0 C2173.4 1440.9 2140.5 1439.8 2100.0 1436.5 C2046.7 1432.2 1978.4 1426.9 1915.0 1421.0 C1847.7 1414.8 1776.3 1406.0 1707.0 1400.0 C1638.0 1394.0 1559.1 1389.4 1500.0 1385.0 C1455.8 1381.7 1421.6 1378.4 1384.0 1376.0 C1348.4 1373.8 1325.5 1372.1 1280.0 1371.0 C1193.0 1368.9 1010.4 1371.7 900.0 1371.0 C814.6 1370.4 716.0 1372.4 673.0 1368.0 C655.7 1366.2 650.6 1365.7 637.0 1361.0 C616.9 1354.1 588.9 1340.2 566.0 1325.0 C541.1 1308.5 514.2 1285.9 494.0 1264.0 C475.5 1244.0 462.3 1223.2 448.0 1200.0 C432.5 1174.9 419.7 1144.4 405.0 1118.0 C391.0 1092.8 372.5 1066.7 362.0 1045.0 C354.2 1028.8 349.5 1013.7 345.0 1001.0 C341.7 991.6 339.7 984.3 337.0 976.0"/>
<path d="M2318.0 1754.0 C2281.0 1755.0 2243.7 1756.1 2207.0 1757.0 C2171.0 1757.9 2145.3 1758.3 2100.0 1759.5 C2021.3 1761.6 1880.5 1766.2 1777.0 1769.0 C1681.1 1771.6 1578.4 1774.5 1500.0 1776.0 C1442.1 1777.1 1390.1 1776.9 1349.0 1778.0 C1320.6 1778.8 1301.0 1780.0 1277.0 1781.0"/>
<path d="M2090.0 2200.0 C2093.3 2201.2 2095.1 2202.2 2100.0 2203.5 C2112.8 2206.8 2148.9 2214.7 2171.0 2215.0 C2190.2 2215.3 2208.0 2212.4 2225.0 2208.0 C2241.2 2203.8 2258.0 2197.8 2271.0 2190.0 C2282.5 2183.1 2293.3 2175.2 2300.0 2165.0 C2306.6 2154.9 2308.1 2142.3 2311.0 2129.0 C2314.4 2113.2 2316.9 2092.0 2318.0 2076.0 C2318.9 2062.9 2318.0 2052.3 2318.0 2040.0 C2318.0 2027.0 2317.0 2015.2 2318.0 2000.0 C2319.3 1979.9 2323.4 1953.4 2327.0 1930.0 C2330.7 1906.4 2335.7 1882.7 2340.0 1859.0 C2344.3 1835.3 2348.7 1811.7 2353.0 1788.0"/>
<path d="M2350.0 1790.0 C2345.7 1813.0 2341.5 1835.8 2337.0 1859.0 C2332.5 1882.5 2326.5 1906.3 2323.0 1930.0 C2319.5 1953.3 2317.5 1979.9 2316.0 2000.0 C2314.9 2015.2 2314.9 2027.0 2314.0 2040.0 C2313.2 2052.3 2314.4 2065.4 2311.0 2076.0 C2307.9 2085.5 2303.1 2093.3 2296.0 2101.0 C2287.4 2110.3 2274.5 2119.0 2261.0 2126.0 C2245.4 2134.1 2228.4 2140.6 2207.0 2145.0 C2177.7 2151.1 2139.7 2150.9 2100.0 2152.5 C2050.3 2154.5 1978.6 2150.6 1932.0 2154.0 C1898.5 2156.5 1878.0 2160.5 1846.0 2166.0 C1805.1 2173.0 1753.1 2183.5 1707.0 2194.0 C1660.8 2204.5 1607.1 2219.5 1569.0 2229.0 C1542.1 2235.7 1525.9 2239.3 1500.0 2246.0 C1466.3 2254.7 1422.2 2267.9 1384.0 2277.0 C1347.2 2285.8 1311.3 2292.3 1275.0 2300.0"/>
<path d="M2590.0 2031.0 C2587.3 2034.0 2585.9 2035.8 2582.0 2040.0 C2572.2 2050.5 2549.1 2077.7 2529.0 2094.0 C2507.7 2111.3 2476.8 2126.8 2457.0 2140.0 C2442.8 2149.4 2433.0 2157.2 2421.0 2165.0 C2409.4 2172.5 2400.1 2179.0 2386.0 2186.0 C2366.6 2195.7 2333.4 2205.3 2314.0 2215.0 C2299.9 2222.0 2291.0 2230.0 2279.0 2236.0 C2267.3 2241.9 2257.3 2246.2 2243.0 2251.0 C2223.3 2257.7 2195.0 2264.6 2171.0 2270.0 C2147.3 2275.4 2124.6 2281.7 2100.0 2283.5 C2073.8 2285.4 2041.9 2283.5 2018.0 2280.0 C1998.8 2277.2 1983.8 2273.1 1967.0 2267.0 C1949.4 2260.6 1926.8 2252.5 1915.0 2242.0 C1906.3 2234.2 1903.4 2225.2 1898.0 2215.0 C1891.6 2202.8 1890.5 2186.4 1880.0 2173.0 C1865.5 2154.6 1837.5 2135.8 1811.0 2121.0 C1780.9 2104.1 1741.7 2093.2 1707.0 2080.0 C1672.7 2066.9 1637.7 2058.1 1604.0 2042.0 C1568.6 2025.1 1530.0 2000.3 1500.0 1980.0 C1475.5 1963.4 1456.7 1945.8 1436.0 1931.0 C1417.5 1917.7 1399.9 1907.8 1382.0 1895.0 C1363.5 1881.8 1345.8 1867.3 1327.0 1853.0 C1307.2 1838.0 1286.3 1822.3 1266.0 1807.0"/>
<path d="M348.0 966.0 C355.7 972.0 361.9 976.6 371.0 984.0 C384.9 995.2 407.5 1013.3 423.0 1027.0 C436.3 1038.8 444.4 1049.5 459.0 1061.0 C478.1 1076.0 505.7 1094.3 530.0 1107.0 C553.1 1119.1 577.0 1128.0 601.0 1136.0 C624.7 1143.9 642.0 1150.8 673.0 1155.0 C727.2 1162.3 820.6 1156.5 900.0 1157.0 C987.7 1157.5 1096.8 1156.4 1177.0 1158.0 C1238.5 1159.2 1292.3 1163.4 1340.0 1164.0 C1377.4 1164.5 1410.9 1164.6 1440.0 1163.0 C1462.6 1161.8 1474.9 1160.1 1500.0 1157.0 C1542.8 1151.8 1615.5 1142.5 1673.0 1132.0 C1730.9 1121.5 1791.8 1108.0 1846.0 1094.0 C1894.8 1081.4 1940.0 1066.4 1984.0 1053.0 C2024.4 1040.6 2069.2 1029.9 2100.0 1016.5 C2122.0 1006.9 2142.7 998.1 2154.0 986.0 C2162.1 977.3 2161.6 964.3 2168.0 957.0 C2173.7 950.5 2180.7 946.7 2189.0 943.0 C2199.1 938.5 2212.9 934.8 2225.0 934.0 C2236.9 933.2 2249.3 934.8 2261.0 938.0 C2273.0 941.3 2285.7 947.5 2296.0 954.0 C2305.5 960.0 2310.7 966.4 2321.0 975.0 C2337.6 988.8 2366.5 1008.5 2386.0 1029.0 C2406.0 1050.0 2425.8 1075.3 2439.0 1100.0 C2451.1 1122.8 2458.7 1149.3 2464.0 1171.0 C2468.3 1188.6 2469.4 1200.5 2471.0 1220.0 C2473.3 1248.7 2472.6 1288.8 2473.0 1327.0 C2473.4 1371.2 2472.6 1425.8 2473.0 1470.0 C2473.4 1508.2 2472.3 1544.9 2475.0 1577.0 C2477.3 1603.5 2481.2 1625.2 2486.0 1649.0 C2490.8 1672.9 2498.2 1696.3 2504.0 1720.0 C2509.8 1743.6 2514.8 1769.7 2521.0 1791.0 C2526.3 1809.0 2531.6 1822.2 2538.0 1840.0 C2545.7 1861.5 2554.8 1889.2 2564.0 1911.0 C2572.2 1930.4 2582.4 1948.4 2590.0 1965.0 C2596.4 1979.0 2601.3 1991.0 2607.0 2004.0"/>
<path d="M2354.0 1720.0 C2353.3 1684.3 2353.3 1648.7 2352.0 1613.0 C2350.7 1577.3 2348.7 1541.6 2346.0 1506.0 C2343.3 1470.3 2339.5 1434.7 2336.0 1399.0 C2332.5 1363.1 2329.1 1323.2 2325.0 1291.0 C2321.6 1264.8 2319.5 1241.2 2314.0 1220.0 C2309.3 1201.9 2304.7 1186.0 2296.0 1171.0 C2287.1 1155.6 2275.0 1141.6 2261.0 1129.0 C2245.8 1115.3 2228.9 1103.6 2207.0 1093.0 C2178.1 1079.1 2139.0 1069.1 2100.0 1058.5 C2054.3 1046.1 1994.7 1033.4 1949.0 1025.0 C1911.5 1018.1 1884.9 1013.3 1846.0 1010.0 C1795.9 1005.8 1730.7 1007.2 1673.0 1006.0 C1615.3 1004.8 1551.9 1006.1 1500.0 1003.0 C1457.4 1000.4 1424.2 996.7 1384.0 991.0 C1339.9 984.7 1294.5 975.7 1246.0 966.0 C1191.5 955.1 1130.6 941.4 1073.0 928.0 C1015.3 914.6 941.8 896.4 900.0 885.5 C876.1 879.3 863.7 875.0 844.0 870.0 C822.3 864.5 788.9 857.7 775.0 854.0 C768.9 852.4 766.3 851.3 762.0 850.0"/>
<path d="M2612.0 1740.0 C2608.0 1721.3 2604.2 1705.7 2600.0 1684.0 C2594.3 1654.1 2587.8 1614.1 2582.0 1577.0 C2575.8 1537.0 2570.6 1490.1 2564.0 1452.0 C2558.4 1419.7 2552.3 1396.2 2546.0 1363.0 C2538.1 1321.0 2529.7 1265.5 2521.0 1220.0 C2513.0 1178.2 2504.7 1134.6 2496.0 1100.0 C2489.2 1073.1 2481.2 1054.2 2475.0 1029.0 C2468.1 1000.9 2464.2 970.2 2457.0 939.0 C2449.1 904.8 2438.2 866.0 2429.0 832.0 C2420.6 800.9 2413.0 772.3 2404.0 743.0 C2395.0 714.0 2382.2 679.8 2375.0 657.0 C2370.3 642.2 2369.4 633.9 2364.0 620.0 C2356.6 600.9 2341.4 576.8 2332.0 554.0 C2322.4 530.8 2315.8 505.8 2307.0 482.0 C2298.2 458.2 2289.5 434.5 2279.0 411.0 C2268.2 386.8 2256.9 360.5 2243.0 339.0 C2230.2 319.2 2215.0 302.8 2200.0 286.0 C2185.3 269.5 2170.8 249.6 2154.0 239.0 C2139.4 229.8 2115.7 225.7 2107.0 223.0 C2103.7 222.0 2103.8 221.7 2100.0 221.0 C2084.8 218.1 2024.3 213.1 1984.0 209.0 C1940.0 204.5 1894.6 198.7 1846.0 195.0 C1791.6 190.8 1730.7 188.0 1673.0 186.0 C1615.4 184.0 1550.1 183.4 1500.0 183.0 C1461.5 182.7 1427.1 182.5 1398.0 183.0 C1376.3 183.4 1361.6 183.7 1341.0 185.0 C1316.3 186.5 1287.1 188.9 1260.0 192.0 C1232.5 195.2 1208.2 199.1 1177.0 204.0 C1136.6 210.4 1084.1 218.1 1038.0 228.0 C991.7 237.9 940.2 255.0 900.0 263.5 C869.3 270.0 847.0 274.3 818.0 277.0 C785.7 280.0 747.9 277.5 715.0 279.0 C684.8 280.3 652.9 280.3 628.0 285.0 C608.5 288.7 593.8 294.1 577.0 301.0 C559.4 308.3 541.8 317.0 525.0 328.0 C507.1 339.7 486.9 355.4 473.0 370.0 C461.3 382.3 453.0 392.4 445.0 408.0 C434.7 428.3 428.7 459.3 421.0 484.0 C413.7 507.5 407.0 532.3 400.0 553.0 C394.2 570.3 387.4 582.5 382.5 600.0 C376.6 621.0 373.6 647.3 369.0 671.0 C364.4 694.9 359.2 719.0 355.0 743.0 C350.9 766.7 347.5 790.2 344.0 814.0 C340.5 837.9 337.2 867.4 334.0 886.0 C332.0 897.9 330.0 905.3 328.0 915.0"/>
<path d="M726.0 580.0 C731.3 574.3 735.3 569.0 742.0 563.0 C751.2 554.7 764.6 544.4 777.0 536.0 C789.9 527.3 801.3 518.2 818.0 512.0 C840.1 503.8 880.3 499.9 900.0 497.0 C911.1 495.4 917.3 495.0 926.0 494.0"/>
<path d="M1292.0 462.0 C1294.7 461.0 1296.9 460.3 1300.0 459.0 C1304.3 457.2 1310.1 454.8 1315.0 452.0 C1320.1 449.1 1325.8 445.5 1330.0 442.0 C1333.5 439.1 1336.4 436.6 1339.0 433.0 C1341.9 429.0 1344.5 424.0 1346.0 419.0 C1347.5 414.0 1347.6 409.1 1348.0 403.0 C1348.5 394.8 1347.6 383.2 1348.0 374.0 C1348.3 365.6 1350.3 357.4 1350.0 350.0 C1349.7 343.6 1348.1 337.6 1347.0 332.0 C1346.1 327.0 1345.0 322.6 1344.0 318.0 C1343.0 313.6 1341.7 309.6 1341.0 305.0 C1340.3 300.0 1340.0 294.3 1340.0 289.0 C1340.0 283.7 1339.8 278.2 1341.0 273.0 C1342.2 267.8 1344.1 262.9 1347.0 258.0 C1350.4 252.2 1355.0 245.1 1361.0 241.0 C1367.4 236.6 1376.1 235.0 1385.0 233.0 C1395.7 230.7 1406.6 229.8 1421.0 229.0 C1442.2 227.8 1476.6 226.1 1500.0 229.0 C1519.3 231.4 1534.0 236.6 1552.0 242.0 C1571.9 248.0 1593.3 256.7 1614.0 264.0"/>
<path d="M1500.0 598.0 C1534.7 593.3 1566.8 587.3 1604.0 584.0 C1646.7 580.2 1693.4 578.2 1742.0 578.0 C1796.4 577.8 1856.4 582.5 1915.0 584.0 C1975.6 585.5 2038.9 589.2 2100.0 587.0 C2160.2 584.8 2222.8 575.5 2279.0 571.0 C2329.1 567.0 2378.4 564.1 2421.0 561.0 C2455.8 558.5 2484.3 556.3 2516.0 554.0"/>
<path d="M745.0 806.0 C756.7 797.0 767.1 789.1 780.0 779.0 C796.1 766.4 815.0 750.9 834.0 736.0 C854.8 719.7 880.9 696.6 900.0 685.0 C913.0 677.2 922.1 674.1 935.0 669.0 C950.3 663.0 969.1 658.7 986.0 652.0 C1003.4 645.1 1021.6 636.9 1038.0 628.0 C1053.8 619.5 1071.0 610.6 1083.0 600.0 C1093.2 590.9 1096.9 580.5 1107.0 570.0 C1120.5 555.9 1140.6 539.7 1159.0 525.0 C1178.5 509.4 1200.3 494.3 1221.0 479.0"/>
<path d="M1338.0 720.0 C1353.3 721.0 1367.2 721.2 1384.0 723.0 C1404.7 725.2 1432.3 728.7 1453.0 733.0 C1470.3 736.6 1484.8 740.1 1500.0 746.0 C1515.5 752.0 1530.6 760.5 1545.0 769.0 C1559.3 777.5 1572.4 786.2 1586.0 797.0 C1601.1 808.9 1616.0 824.3 1631.0 838.0"/>
<path d="M1258.0 862.0 C1265.3 855.3 1272.1 850.2 1280.0 842.0 C1290.7 830.9 1305.0 814.7 1315.0 800.0 C1324.6 786.0 1334.5 771.8 1339.0 756.0 C1343.6 739.9 1337.6 718.7 1342.0 704.0 C1345.7 691.8 1350.9 680.4 1360.0 673.0 C1370.0 664.8 1386.3 661.0 1401.0 659.0 C1417.1 656.8 1436.2 659.2 1453.0 662.0 C1469.2 664.7 1480.2 671.2 1500.0 675.0 C1532.5 681.3 1589.3 683.7 1631.0 690.0 C1669.6 695.9 1703.0 703.9 1742.0 711.0 C1785.5 718.9 1841.9 728.9 1880.0 735.0 C1906.9 739.3 1925.9 743.7 1949.0 745.0 C1971.9 746.3 1994.0 744.3 2018.0 743.0 C2044.2 741.6 2071.0 740.7 2100.0 736.5 C2133.4 731.7 2171.4 722.4 2207.0 714.0 C2242.8 705.6 2278.8 698.2 2314.0 686.0 C2350.2 673.4 2392.5 651.0 2421.0 639.0 C2439.8 631.1 2451.6 628.1 2468.0 620.0 C2487.4 610.4 2512.1 591.8 2529.0 584.0 C2540.1 578.9 2548.2 578.2 2558.0 574.0 C2568.8 569.4 2580.0 562.7 2591.0 557.0"/>
<path d="M2097.0 2098.0 C2098.0 2098.7 2098.3 2099.3 2100.0 2100.0 C2106.8 2102.6 2136.0 2107.0 2154.0 2108.0 C2171.7 2109.0 2189.4 2108.9 2207.0 2106.0 C2225.1 2103.0 2245.3 2096.9 2261.0 2090.0 C2274.3 2084.1 2288.9 2078.3 2296.0 2069.0 C2302.1 2061.0 2301.8 2050.5 2304.0 2040.0 C2306.6 2027.8 2307.4 2013.9 2310.0 2000.0 C2312.9 1984.7 2317.2 1970.7 2321.0 1952.0 C2326.3 1926.1 2333.1 1887.9 2338.0 1859.0 C2342.3 1833.8 2345.3 1811.7 2349.0 1788.0"/>
<path d="M1300.0 364.0 C1310.0 364.7 1319.7 365.2 1330.0 366.0 C1341.0 366.9 1352.1 367.2 1364.0 369.0 C1377.5 371.0 1392.1 373.8 1407.0 378.0 C1423.7 382.8 1443.0 389.7 1459.0 397.0 C1473.8 403.7 1487.3 410.8 1500.0 419.5 C1512.6 428.1 1524.0 437.4 1535.0 449.0 C1547.2 461.9 1560.0 477.2 1569.0 494.0 C1578.5 511.7 1583.3 534.5 1590.0 553.0 C1595.9 569.6 1601.2 581.9 1607.0 600.0 C1614.8 624.2 1625.1 658.6 1631.0 686.0 C1636.3 710.4 1639.6 731.4 1642.0 756.0 C1644.6 783.1 1644.0 813.3 1645.0 842.0"/>
<path d="M338.0 915.0 C341.3 905.3 344.2 897.9 348.0 886.0 C353.9 867.4 360.3 837.6 369.0 814.0 C377.9 789.9 388.3 766.3 401.0 743.0 C414.4 718.6 431.3 694.6 448.0 671.0 C465.1 646.9 485.0 619.3 502.5 600.0 C516.1 585.0 526.2 574.5 542.0 563.0 C561.1 549.1 585.6 538.9 611.0 525.0 C642.1 507.9 679.8 484.2 715.0 468.0 C748.9 452.4 785.3 438.8 818.0 429.0 C846.6 420.4 873.8 415.6 900.0 410.5 C923.9 405.8 943.6 402.9 969.0 399.0 C1000.1 394.2 1038.9 388.6 1073.0 384.0 C1105.9 379.6 1137.7 376.0 1170.0 372.0"/>
<path d="M341.0 917.0 C344.3 910.0 346.4 904.8 351.0 896.0 C359.1 880.4 372.9 853.4 387.0 832.0 C402.5 808.4 421.7 786.0 441.0 761.0 C462.9 732.7 485.9 698.1 512.0 671.0 C537.5 644.5 570.6 618.6 595.5 600.0 C614.0 586.2 626.9 579.3 646.0 567.0 C670.8 550.9 702.7 527.7 732.0 512.0 C760.1 496.9 789.2 483.5 818.0 474.0 C845.2 465.0 870.9 460.1 900.0 455.5 C932.5 450.4 972.8 447.4 1004.0 446.0 C1029.3 444.8 1046.8 444.7 1073.0 446.0 C1107.7 447.7 1153.7 454.0 1194.0 458.0"/>
<path d="M2607.0 558.0 C2600.3 568.7 2593.1 579.4 2587.0 590.0 C2581.2 600.1 2577.8 608.1 2571.0 620.0 C2560.5 638.4 2546.0 662.6 2529.0 689.0 C2505.0 726.2 2467.7 781.2 2439.0 821.0 C2414.4 855.1 2391.1 885.3 2368.0 914.0 C2347.2 939.8 2327.8 962.2 2307.0 986.0 C2286.1 1009.9 2265.7 1034.9 2243.0 1057.0 C2220.4 1078.9 2195.8 1101.0 2171.0 1118.0 C2148.0 1133.7 2122.2 1145.4 2100.0 1156.5 C2080.9 1166.0 2064.3 1173.7 2046.0 1181.0 C2027.9 1188.2 2012.8 1194.2 1991.0 1200.0 C1960.7 1208.1 1916.3 1214.6 1880.0 1221.0 C1845.1 1227.2 1811.4 1232.3 1777.0 1238.0 C1742.4 1243.7 1707.5 1247.6 1673.0 1255.0 C1638.1 1262.5 1599.7 1272.0 1569.0 1283.0 C1543.2 1292.2 1513.2 1297.5 1500.0 1314.0 C1488.2 1328.7 1493.7 1350.0 1488.0 1373.0 C1479.8 1406.3 1465.1 1455.3 1453.0 1494.0 C1441.7 1530.1 1428.2 1564.9 1418.0 1598.0 C1408.8 1627.9 1401.9 1653.1 1394.0 1684.0 C1384.9 1719.7 1375.3 1766.4 1367.0 1800.0 C1360.6 1826.0 1355.5 1844.7 1349.0 1869.0 C1341.7 1896.3 1332.5 1927.0 1325.0 1956.0 C1317.5 1984.7 1311.5 2013.4 1304.0 2042.0 C1296.5 2070.7 1287.5 2099.2 1280.0 2128.0 C1272.5 2156.9 1265.1 2189.3 1259.0 2215.0 C1254.1 2235.4 1248.8 2257.7 1246.0 2270.0 C1244.6 2276.2 1244.0 2279.3 1243.0 2284.0"/>
<path d="M2146.0 969.0 C2166.3 971.7 2185.9 973.3 2207.0 977.0 C2230.1 981.1 2262.8 984.9 2279.0 993.0 C2288.9 998.0 2294.5 1002.3 2300.0 1011.0 C2307.7 1023.3 2310.0 1044.9 2314.0 1064.0 C2318.6 1086.1 2321.8 1111.0 2325.0 1136.0 C2328.5 1162.9 2333.2 1220.1 2334.0 1220.0 C2334.9 1219.9 2331.8 1150.8 2329.0 1118.0 C2326.4 1087.3 2321.9 1057.1 2318.0 1029.0 C2314.5 1003.7 2312.3 976.6 2307.0 957.0 C2303.2 942.7 2300.4 931.5 2293.0 921.0 C2285.3 910.0 2274.8 901.0 2261.0 893.0 C2242.6 882.3 2214.6 874.2 2189.0 868.0 C2161.2 861.3 2131.7 858.9 2100.0 855.5 C2064.0 851.7 2024.4 848.6 1984.0 847.0 C1940.0 845.2 1886.6 845.4 1846.0 846.0 C1814.0 846.4 1788.7 848.0 1760.0 849.0"/>
<path d="M1628.0 264.0 C1620.0 256.7 1613.3 248.3 1604.0 242.0 C1593.9 235.1 1582.6 230.3 1569.0 225.0 C1551.5 218.1 1517.4 209.1 1507.0 206.0 C1503.5 205.0 1503.2 204.8 1500.0 204.0 C1493.5 202.4 1480.4 199.3 1470.0 198.0 C1459.1 196.6 1447.6 195.7 1436.0 196.0 C1423.7 196.3 1410.3 198.6 1398.0 200.0 C1386.3 201.3 1376.1 202.1 1364.0 204.0 C1349.8 206.2 1334.2 210.0 1318.0 213.0 C1299.8 216.3 1278.5 219.2 1260.0 223.0 C1242.9 226.6 1230.4 230.7 1211.0 235.0 C1182.8 241.3 1141.4 247.4 1107.0 256.0 C1072.4 264.7 1038.1 274.6 1004.0 287.0 C969.0 299.8 932.7 318.2 900.0 332.0 C871.1 344.2 846.4 352.0 818.0 366.0 C785.1 382.1 749.8 406.9 715.0 425.0 C680.8 442.8 642.2 459.7 611.0 474.0 C585.7 485.6 562.4 493.3 542.0 505.0 C524.0 515.3 509.3 524.8 494.0 539.0 C476.2 555.5 458.3 578.1 443.5 600.0 C428.6 622.1 416.3 646.9 405.0 671.0 C393.9 694.6 384.4 718.9 376.0 743.0 C367.8 766.6 360.8 790.1 355.0 814.0 C349.2 837.8 345.1 867.4 341.0 886.0 C338.4 897.9 336.3 905.3 334.0 915.0"/>
<path d="M331.0 915.0 C333.0 905.3 334.6 897.8 337.0 886.0 C340.7 867.4 346.2 837.9 351.0 814.0 C355.8 790.2 360.1 766.6 366.0 743.0 C372.0 719.0 378.9 694.7 387.0 671.0 C395.2 647.1 404.2 624.3 415.0 600.0 C426.9 573.4 440.8 544.7 456.0 518.0 C471.4 491.0 489.7 465.0 507.0 439.0 C524.1 413.3 542.3 387.4 559.0 363.0 C574.6 340.2 589.0 317.8 604.0 297.0 C618.0 277.6 631.4 261.4 646.0 242.0 C662.3 220.4 678.9 193.0 697.0 173.0 C713.4 154.9 731.3 140.4 749.0 126.0 C766.0 112.2 780.1 100.1 801.0 88.0 C828.1 72.3 869.5 54.0 900.0 44.0 C924.6 35.9 945.9 32.8 969.0 29.0 C991.9 25.2 1012.6 22.6 1038.0 21.0 C1069.1 19.1 1096.9 20.2 1142.0 20.0 C1225.6 19.6 1365.3 20.0 1500.0 20.0 C1674.3 20.0 1939.8 20.0 2100.0 20.0 C2207.1 20.0 2320.1 16.7 2368.0 20.0 C2385.6 21.2 2391.2 21.2 2404.0 25.0 C2420.3 29.9 2440.2 38.2 2457.0 50.0 C2476.2 63.5 2496.1 84.1 2511.0 104.0 C2525.6 123.5 2535.9 146.3 2546.0 168.0 C2555.8 189.0 2563.9 209.8 2571.0 232.0 C2578.4 255.1 2584.1 280.0 2589.0 304.0 C2593.8 327.6 2597.0 351.3 2600.0 375.0 C2603.0 398.6 2605.0 421.3 2607.0 446.0 C2609.1 472.8 2610.3 502.0 2612.0 530.0"/>
<path d="M1149.0 384.0 C1137.3 394.3 1124.5 403.9 1114.0 415.0 C1103.9 425.7 1095.4 436.8 1087.0 449.0 C1078.0 462.0 1071.3 477.7 1062.0 491.0 C1052.7 504.3 1044.1 519.3 1031.0 529.0 C1017.1 539.3 997.3 544.8 980.0 550.0 C963.0 555.1 942.3 554.4 928.0 560.0 C916.7 564.4 909.4 571.1 900.0 577.5 C889.9 584.4 880.3 589.4 869.5 600.0 C853.0 616.3 833.6 646.5 816.0 671.0 C797.7 696.4 776.7 726.4 762.0 750.0 C750.7 768.3 740.8 789.9 734.0 800.0 C730.8 804.8 728.7 806.7 726.0 810.0"/>
</g>
<g fill="none" stroke="#9a32cd" stroke-width="7" stroke-dasharray="8.2,7.8">
<path d="M325.5 974.0 L325.5 1112.0"/>
</g>
<g fill="none" stroke="#63b8ff" stroke-width="2.2">
<path d="M1173.0 375.0 C1151.0 380.3 1127.8 383.1 1107.0 391.0 C1086.5 398.8 1065.5 411.3 1049.0 422.0 C1035.4 430.8 1023.9 439.7 1014.0 449.0 C1005.4 457.1 999.3 465.7 992.0 474.0"/>
<path d="M294.0 943.0 C262.7 943.0 223.7 943.0 200.0 943.0 C185.5 943.0 176.7 943.0 165.0 943.0"/>
<path d="M1268.0 608.0 C1273.3 605.3 1277.0 603.3 1284.0 600.0 C1296.6 594.0 1318.5 582.4 1338.0 576.0 C1359.3 569.0 1382.3 566.1 1407.0 561.0 C1435.7 555.1 1468.1 548.2 1500.0 543.0 C1533.6 537.5 1566.8 532.7 1604.0 529.0 C1646.7 524.7 1693.4 520.9 1742.0 520.0 C1796.4 519.0 1856.4 522.7 1915.0 525.0 C1975.6 527.4 2036.1 532.0 2100.0 534.0 C2168.7 536.2 2243.7 535.8 2314.0 537.0 C2382.3 538.2 2448.7 539.7 2516.0 541.0"/>
<path d="M2596.0 530.0 C2579.3 521.3 2564.5 511.9 2546.0 504.0 C2524.7 494.9 2503.9 485.7 2475.0 480.0 C2432.6 471.7 2371.5 472.5 2314.0 470.0 C2247.8 467.1 2178.7 465.9 2100.0 464.5 C2003.4 462.7 1880.5 461.3 1777.0 461.0 C1681.1 460.7 1574.6 461.9 1500.0 462.5 C1449.5 462.9 1410.8 463.5 1373.0 464.0 C1342.4 464.4 1317.7 464.7 1290.0 465.0"/>
<path d="M1282.0 485.0 C1289.3 488.3 1295.2 490.6 1304.0 495.0 C1317.8 501.8 1338.8 513.5 1356.0 523.0 C1373.1 532.5 1391.8 542.5 1407.0 552.0 C1419.9 560.1 1430.6 567.9 1442.0 576.0 C1453.2 583.9 1464.8 592.3 1475.0 600.0 C1484.0 606.9 1490.6 611.0 1500.0 620.0 C1514.8 634.2 1537.0 660.3 1552.0 680.0 C1565.2 697.3 1575.6 713.7 1586.0 731.0 C1596.2 748.0 1605.5 764.9 1614.0 783.0 C1622.9 801.8 1630.0 822.3 1638.0 842.0"/>
<path d="M1294.0 624.0 C1312.3 624.7 1329.7 624.0 1349.0 626.0 C1370.8 628.3 1396.8 632.7 1418.0 638.0 C1436.7 642.7 1455.1 649.9 1470.0 655.0 C1481.4 658.9 1488.9 660.3 1500.0 665.5 C1515.3 672.7 1536.5 683.0 1552.0 697.0 C1569.2 712.4 1583.4 733.7 1597.0 756.0 C1612.4 781.3 1624.3 813.3 1638.0 842.0"/>
</g>
<g fill="#9a32cd" stroke="#9a32cd" stroke-width="1">
<polygon points="716.0,591.0 721.7,575.9 730.5,583.9"/>
<polygon points="1243.0,353.0 1244.9,337.0 1255.5,342.7"/>
<polygon points="1249.0,353.0 1250.9,337.0 1261.4,342.7"/>
<polygon points="1299.0,364.0 1314.4,359.0 1313.6,371.0"/>
<polygon points="1298.0,428.0 1314.2,427.9 1309.8,439.1"/>
<polygon points="1278.0,463.0 1292.5,455.9 1293.4,467.9"/>
<polygon points="1314.0,402.0 1323.4,388.9 1329.9,399.0"/>
<polygon points="1961.0,328.0 1945.6,333.0 1946.4,321.0"/>
<polygon points="1695.0,285.0 1710.7,281.3 1709.0,293.1"/>
<polygon points="1697.0,287.0 1713.1,285.7 1709.5,297.2"/>
<polygon points="1928.0,404.0 1913.7,411.6 1912.4,399.7"/>
<polygon points="326.0,930.0 322.0,914.3 333.9,915.9"/>
<polygon points="329.0,930.0 325.0,914.3 336.9,915.9"/>
<polygon points="332.0,930.0 328.0,914.3 339.9,915.9"/>
<polygon points="335.0,930.0 332.1,914.1 343.8,916.5"/>
<polygon points="337.0,930.0 335.7,913.9 347.1,917.4"/>
<polygon points="723.0,823.0 720.5,807.0 732.2,809.7"/>
<polygon points="730.0,822.0 735.9,807.0 744.6,815.2"/>
<polygon points="684.0,822.0 680.5,806.2 692.4,808.2"/>
<polygon points="728.0,616.0 744.1,617.3 738.7,628.1"/>
<polygon points="346.0,928.0 356.0,915.3 362.0,925.8"/>
<polygon points="350.0,944.0 364.5,936.9 365.4,948.9"/>
<polygon points="910.0,812.0 895.9,819.9 894.3,808.0"/>
<polygon points="749.0,843.0 764.6,838.8 763.2,850.7"/>
<polygon points="747.0,847.0 762.9,844.1 760.5,855.8"/>
<polygon points="751.0,850.0 766.1,855.8 758.0,864.6"/>
<polygon points="351.0,948.0 366.0,942.0 366.0,954.0"/>
<polygon points="351.0,954.0 366.7,950.2 365.0,962.1"/>
<polygon points="337.0,958.0 352.7,962.0 345.6,971.7"/>
<polygon points="331.0,958.0 341.4,970.3 330.1,974.1"/>
<polygon points="1259.0,702.0 1268.2,688.7 1274.8,698.7"/>
<polygon points="1324.0,720.0 1339.0,714.0 1339.0,726.0"/>
<polygon points="1011.0,795.0 1024.3,785.8 1027.0,797.5"/>
<polygon points="1249.0,872.0 1254.6,856.8 1263.5,864.9"/>
<polygon points="1336.0,890.0 1351.0,884.0 1351.0,896.0"/>
<polygon points="1007.0,968.0 1018.8,957.0 1023.2,968.2"/>
<polygon points="1014.0,994.0 1030.2,994.2 1025.5,1005.3"/>
<polygon points="1746.0,849.0 1761.0,843.0 1761.0,855.0"/>
<polygon points="1669.0,870.0 1685.0,871.9 1679.3,882.5"/>
<polygon points="2132.0,968.0 2147.4,963.1 2146.5,975.1"/>
<polygon points="325.0,957.0 331.0,972.0 319.0,972.0"/>
<polygon points="701.0,2937.0 694.0,2922.4 706.0,2921.6"/>
<polygon points="726.0,2929.0 731.7,2913.9 740.5,2921.9"/>
<polygon points="685.0,2934.0 677.9,2919.5 689.9,2918.6"/>
<polygon points="419.0,2748.0 434.9,2745.3 432.4,2757.0"/>
<polygon points="418.0,2800.0 433.9,2797.3 431.4,2809.0"/>
<polygon points="419.0,2871.0 434.9,2868.3 432.4,2880.0"/>
<polygon points="419.0,2929.0 434.4,2924.1 433.5,2936.1"/>
<polygon points="444.0,2976.0 459.0,2970.0 459.0,2982.0"/>
<polygon points="421.0,3029.0 435.5,3021.9 436.4,3033.9"/>
<polygon points="421.0,3097.0 435.5,3089.9 436.4,3101.9"/>
<polygon points="425.0,3166.0 439.5,3158.9 440.4,3170.9"/>
<polygon points="446.0,3231.0 460.5,3223.9 461.4,3235.9"/>
<polygon points="397.0,3299.0 412.4,3294.1 411.5,3306.1"/>
<polygon points="1244.0,1767.0 1242.1,1751.0 1253.7,1754.1"/>
<polygon points="1239.0,1767.0 1234.0,1751.6 1246.0,1752.4"/>
<polygon points="1263.0,1781.0 1278.0,1775.0 1278.0,1787.0"/>
<polygon points="2130.0,1274.0 2145.4,1269.1 2144.5,1281.1"/>
<polygon points="2154.0,1334.0 2169.4,1329.1 2168.5,1341.1"/>
<polygon points="2143.0,1393.0 2158.4,1388.1 2157.5,1400.1"/>
<polygon points="2104.0,1479.0 2119.0,1473.0 2119.0,1485.0"/>
<polygon points="2132.0,1543.0 2147.4,1538.1 2146.5,1550.1"/>
<polygon points="2148.0,1611.0 2163.7,1607.2 2162.0,1619.1"/>
<polygon points="2141.0,1675.0 2156.9,1672.3 2154.4,1684.0"/>
<polygon points="2134.0,1734.0 2149.4,1729.1 2148.5,1741.1"/>
<polygon points="2357.0,1738.0 2351.0,1723.0 2363.0,1723.0"/>
<polygon points="2355.0,1738.0 2348.2,1723.4 2360.2,1722.7"/>
<polygon points="2364.0,1738.0 2361.8,1722.0 2373.5,1724.9"/>
<polygon points="2540.0,1753.0 2525.0,1759.0 2525.0,1747.0"/>
<polygon points="2393.0,1766.0 2409.1,1765.1 2405.3,1776.4"/>
<polygon points="2372.0,1768.0 2387.1,1773.7 2379.1,1782.5"/>
<polygon points="1240.0,2298.0 1237.3,2282.1 1249.0,2284.6"/>
<polygon points="1244.0,1795.0 1255.8,1806.0 1245.0,1811.1"/>
<polygon points="1252.0,1796.0 1267.5,1800.5 1260.1,1810.0"/>
<polygon points="1261.0,2303.0 1274.4,2294.0 1276.9,2305.7"/>
<polygon points="1261.0,2315.0 1276.0,2309.0 1276.0,2321.0"/>
<polygon points="1261.0,2325.0 1276.9,2322.3 1274.4,2334.0"/>
<polygon points="1253.0,2325.0 1268.8,2328.3 1262.2,2338.3"/>
<polygon points="1758.0,1969.0 1772.5,1961.9 1773.4,1973.9"/>
<polygon points="1758.0,1990.0 1773.4,1985.1 1772.5,1997.1"/>
<polygon points="2084.0,2096.0 2099.9,2092.9 2097.6,2104.7"/>
<polygon points="2077.0,2197.0 2093.1,2195.4 2089.8,2206.9"/>
<polygon points="2131.0,1846.0 2145.7,1839.2 2146.3,1851.2"/>
<polygon points="2114.0,2024.0 2129.0,2018.0 2129.0,2030.0"/>
<polygon points="2552.0,2564.0 2536.6,2568.9 2537.5,2556.9"/>
<polygon points="2554.0,2551.0 2538.1,2553.7 2540.6,2542.0"/>
<polygon points="2600.0,2365.0 2584.0,2362.6 2590.1,2352.3"/>
<polygon points="2567.0,2032.0 2553.6,2041.0 2551.1,2029.3"/>
<polygon points="2600.0,2365.0 2587.0,2355.4 2597.2,2349.1"/>
<polygon points="2359.0,1768.0 2365.0,1783.0 2353.0,1783.0"/>
</g>
<g fill="#63b8ff" stroke="#63b8ff" stroke-width="1">
<polygon points="990.0,478.0 994.9,462.6 1004.2,470.3"/>
<polygon points="1270.0,480.0 1286.2,480.2 1281.5,491.3"/>
<polygon points="1277.0,466.0 1291.5,458.9 1292.4,470.8"/>
<polygon points="1259.0,612.0 1269.9,600.1 1275.1,610.9"/>
<polygon points="1280.0,624.0 1295.0,618.0 1295.0,630.0"/>
<polygon points="150.0,943.0 165.0,937.0 165.0,949.0"/>
</g>
<rect x="5.0" y="931.0" width="144.0" height="25.0" fill="#ffffff" stroke="#666666" stroke-width="2"/>
<text x="77.0" y="946.3" text-anchor="middle" textLength="121.1" lengthAdjust="spacingAndGlyphs">basic_string&lt; Char &gt;</text>
<rect x="295.0" y="931.0" width="54.0" height="25.0" fill="#ffffff" stroke="#666666" stroke-width="2"/>
<text x="322.0" y="946.3" text-anchor="middle" textLength="32.2" lengthAdjust="spacingAndGlyphs">string</text>
<rect x="667.0" y="824.0" width="81.0" height="24.0" fill="#ffffff" stroke="#666666" stroke-width="2"/>
<text x="707.5" y="838.8" text-anchor="middle" textLength="60.1" lengthAdjust="spacingAndGlyphs">TRGClock</text>
<rect x="909.0" y="795.0" width="123.0" height="26.0" fill="#fff0f0" stroke="#ff0000" stroke-width="2"/>
<text x="970.5" y="810.8" text-anchor="middle" textLength="100.9" lengthAdjust="spacingAndGlyphs">TRGSignalVector</text>
<rect x="928.0" y="970.0" width="84.0" height="25.0" fill="#fff0f0" stroke="#ff0000" stroke-width="2"/>
<text x="970.0" y="985.3" text-anchor="middle" textLength="64.1" lengthAdjust="spacingAndGlyphs">TRGSignal</text>
<rect x="689.0" y="591.0" width="38.0" height="25.0" fill="#ffffff" stroke="#bfbfbf" stroke-width="2"/>
<text x="708.0" y="606.3" text-anchor="middle" textLength="8.0" lengthAdjust="spacingAndGlyphs">T</text>
<rect x="926.0" y="479.0" width="89.0" height="26.0" fill="#ffffff" stroke="#666666" stroke-width="2"/>
<text x="970.5" y="494.8" text-anchor="middle" textLength="65.3" lengthAdjust="spacingAndGlyphs">vector&lt; T &gt;</text>
<rect x="1174.0" y="353.0" width="124.0" height="24.0" fill="#ffffff" stroke="#666666" stroke-width="2"/>
<text x="1236.0" y="367.8" text-anchor="middle" textLength="104.8" lengthAdjust="spacingAndGlyphs">TRGSignalBundle</text>
<rect x="1157.0" y="403.0" width="157.0" height="23.0" fill="#ffffff" stroke="#666666" stroke-width="2"/>
<text x="1235.5" y="417.3" text-anchor="middle" textLength="135.9" lengthAdjust="spacingAndGlyphs">vector&lt; TCSegment * &gt;</text>
<rect x="1195.0" y="453.0" width="81.0" height="24.0" fill="#ffffff" stroke="#666666" stroke-width="2"/>
<text x="1235.5" y="467.8" text-anchor="middle" textLength="62.6" lengthAdjust="spacingAndGlyphs">TRGBoard</text>
<rect x="1192.0" y="614.0" width="88.0" height="23.0" fill="#ffffff" stroke="#666666" stroke-width="2"/>
<text x="1236.0" y="628.3" text-anchor="middle" textLength="65.3" lengthAdjust="spacingAndGlyphs">vector&lt; T &gt;</text>
<rect x="1148.0" y="703.0" width="176.0" height="39.0" fill="#ffffff" stroke="#666666" stroke-width="2"/>
<text x="1236.0" y="717.8" text-anchor="middle" textLength="154.4" lengthAdjust="spacingAndGlyphs">vector&lt; Belle2::TRGSignal</text>
<text x="1236.0" y="732.8" text-anchor="middle" textLength="56.8" lengthAdjust="spacingAndGlyphs">Vector * &gt;</text>
<rect x="1137.0" y="874.0" width="198.0" height="23.0" fill="#ffffff" stroke="#666666" stroke-width="2"/>
<text x="1236.0" y="888.3" text-anchor="middle" textLength="174.4" lengthAdjust="spacingAndGlyphs">vector&lt; Belle2::TRGSignal * &gt;</text>
<rect x="1598.0" y="265.0" width="96.0" height="24.0" fill="#ffffff" stroke="#666666" stroke-width="2"/>
<text x="1646.0" y="279.8" text-anchor="middle" textLength="76.4" lengthAdjust="spacingAndGlyphs">TRGChannel</text>
<rect x="1962.0" y="309.0" width="140.0" height="40.0" fill="#ffffff" stroke="#666666" stroke-width="2"/>
<text x="2032.0" y="324.3" text-anchor="middle" textLength="118.0" lengthAdjust="spacingAndGlyphs">vector&lt; const Belle2</text>
<text x="2032.0" y="339.3" text-anchor="middle" textLength="103.8" lengthAdjust="spacingAndGlyphs">::TRGChannel * &gt;</text>
<rect x="1928.0" y="382.0" width="208.0" height="25.0" fill="#ffffff" stroke="#666666" stroke-width="2"/>
<text x="2032.0" y="397.3" text-anchor="middle" textLength="186.8" lengthAdjust="spacingAndGlyphs">vector&lt; Belle2::TRGChannel * &gt;</text>
<rect x="2517.0" y="531.0" width="198.0" height="26.0" fill="#999999" stroke="#666666" stroke-width="2"/>
<text x="2616.0" y="546.8" text-anchor="middle" textLength="176.4" lengthAdjust="spacingAndGlyphs">TRGCDCTrackSegmentFinder</text>
<rect x="1548.0" y="844.0" width="197.0" height="24.0" fill="#ffffff" stroke="#666666" stroke-width="2"/>
<text x="1646.5" y="858.8" text-anchor="middle" textLength="176.4" lengthAdjust="spacingAndGlyphs">TRGCDCTrackSegmentFinder</text>
<rect x="1933.0" y="937.0" width="200.0" height="39.0" fill="#ffffff" stroke="#666666" stroke-width="2"/>
<text x="2033.0" y="951.8" text-anchor="middle" textLength="177.1" lengthAdjust="spacingAndGlyphs">vector&lt; Belle2::TRGCDCTrack</text>
<text x="2033.0" y="966.8" text-anchor="middle" textLength="109.6" lengthAdjust="spacingAndGlyphs">SegmentFinder * &gt;</text>
<rect x="1935.0" y="1245.0" width="195.0" height="39.0" fill="#ffffff" stroke="#ff4500" stroke-width="2"/>
<text x="2032.5" y="1259.8" text-anchor="middle" textLength="173.3" lengthAdjust="spacingAndGlyphs">vector&lt; Belle2::TRGCDCWire</text>
<text x="2032.5" y="1274.8" text-anchor="middle" textLength="36.0" lengthAdjust="spacingAndGlyphs">Hit * &gt;</text>
<rect x="1912.0" y="1310.0" width="241.0" height="25.0" fill="#ffffff" stroke="#ff4500" stroke-width="2"/>
<text x="2032.5" y="1325.3" text-anchor="middle" textLength="218.8" lengthAdjust="spacingAndGlyphs">vector&lt; Belle2::TRGCDCSegment * &gt;</text>
<rect x="1923.0" y="1360.0" width="220.0" height="40.0" fill="#ffffff" stroke="#ff4500" stroke-width="2"/>
<text x="2033.0" y="1375.3" text-anchor="middle" textLength="198.8" lengthAdjust="spacingAndGlyphs">vector&lt; Belle2::TRGCDCSegment</text>
<text x="2033.0" y="1390.3" text-anchor="middle" textLength="36.0" lengthAdjust="spacingAndGlyphs">Hit * &gt;</text>
<rect x="1962.0" y="1476.0" width="141.0" height="24.0" fill="#ffffff" stroke="#666666" stroke-width="2"/>
<text x="2032.5" y="1490.8" text-anchor="middle" textLength="117.7" lengthAdjust="spacingAndGlyphs">vector&lt; TRGLink * &gt;</text>
<rect x="1933.0" y="1525.0" width="198.0" height="39.0" fill="#ffffff" stroke="#ff4500" stroke-width="2"/>
<text x="2032.0" y="1539.8" text-anchor="middle" textLength="176.3" lengthAdjust="spacingAndGlyphs">vector&lt; Belle2::TRGCDCFront</text>
<text x="2032.0" y="1554.8" text-anchor="middle" textLength="43.3" lengthAdjust="spacingAndGlyphs">End * &gt;</text>
<rect x="1917.0" y="1590.0" width="231.0" height="25.0" fill="#ffffff" stroke="#ff4500" stroke-width="2"/>
<text x="2032.5" y="1605.3" text-anchor="middle" textLength="207.9" lengthAdjust="spacingAndGlyphs">vector&lt; Belle2::TRGCDCMerger * &gt;</text>
<rect x="1924.0" y="1640.0" width="217.0" height="39.0" fill="#ffffff" stroke="#ff4500" stroke-width="2"/>
<text x="2032.5" y="1654.8" text-anchor="middle" textLength="195.8" lengthAdjust="spacingAndGlyphs">vector&lt; Belle2::TRGCDCTracker2</text>
<text x="2032.5" y="1669.8" text-anchor="middle" textLength="29.5" lengthAdjust="spacingAndGlyphs">D * &gt;</text>
<rect x="1931.0" y="1704.0" width="203.0" height="40.0" fill="#ffffff" stroke="#ff4500" stroke-width="2"/>
<text x="2032.5" y="1719.3" text-anchor="middle" textLength="179.5" lengthAdjust="spacingAndGlyphs">vector&lt; Belle2::TRGCDCEvent</text>
<text x="2032.5" y="1734.3" text-anchor="middle" textLength="49.1" lengthAdjust="spacingAndGlyphs">Time * &gt;</text>
<rect x="2319.0" y="1741.0" width="78.0" height="24.0" fill="#ffffff" stroke="#666666" stroke-width="2"/>
<text x="2358.0" y="1755.8" text-anchor="middle" textLength="56.0" lengthAdjust="spacingAndGlyphs">TRGCDC</text>
<rect x="2541.0" y="1741.0" width="150.0" height="24.0" fill="#fff0f0" stroke="#ff0000" stroke-width="2"/>
<text x="2616.0" y="1755.8" text-anchor="middle" textLength="131.7" lengthAdjust="spacingAndGlyphs">TRGCDCHoughFinder</text>
<rect x="1209.0" y="1769.0" width="54.0" height="25.0" fill="#ffffff" stroke="#bfbfbf" stroke-width="2"/>
<text x="1236.0" y="1784.3" text-anchor="middle" textLength="33.4" lengthAdjust="spacingAndGlyphs">TTree</text>
<rect x="1935.0" y="1819.0" width="195.0" height="40.0" fill="#ffffff" stroke="#ff4500" stroke-width="2"/>
<text x="2032.5" y="1834.3" text-anchor="middle" textLength="173.3" lengthAdjust="spacingAndGlyphs">vector&lt; Belle2::TRGCDCWire</text>
<text x="2032.5" y="1849.3" text-anchor="middle" textLength="56.4" lengthAdjust="spacingAndGlyphs">HitMC * &gt;</text>
<rect x="1536.0" y="1966.0" width="221.0" height="25.0" fill="#ffffff" stroke="#ff4500" stroke-width="2"/>
<text x="1646.5" y="1981.3" text-anchor="middle" textLength="198.5" lengthAdjust="spacingAndGlyphs">vector&lt; Belle2::TRGCDCLayer * &gt;</text>
<rect x="1950.0" y="1990.0" width="165.0" height="55.0" fill="#ffffff" stroke="#666666" stroke-width="2"/>
<text x="1963.0" y="2005.3" textLength="106.7" lengthAdjust="spacingAndGlyphs">vector&lt; std::vector</text>
<text x="1963.0" y="2020.3" textLength="143.1" lengthAdjust="spacingAndGlyphs">&lt; Belle2::TRGCDCLayer</text>
<text x="2032.5" y="2035.3" text-anchor="middle" textLength="40.1" lengthAdjust="spacingAndGlyphs"> * &gt; * &gt;</text>
<rect x="2532.0" y="2005.0" width="168.0" height="25.0" fill="#fff0f0" stroke="#ff0000" stroke-width="2"/>
<text x="2616.0" y="2020.3" text-anchor="middle" textLength="148.5" lengthAdjust="spacingAndGlyphs">TRGCDCHough3DFinder</text>
<rect x="1922.0" y="2069.0" width="221.0" height="24.0" fill="#ffffff" stroke="#ff4500" stroke-width="2"/>
<text x="2032.5" y="2083.8" text-anchor="middle" textLength="197.2" lengthAdjust="spacingAndGlyphs">vector&lt; Belle2::TRGCDCTrack * &gt;</text>
<rect x="1925.0" y="2170.0" width="216.0" height="25.0" fill="#ffffff" stroke="#ff4500" stroke-width="2"/>
<text x="2033.0" y="2185.3" text-anchor="middle" textLength="193.3" lengthAdjust="spacingAndGlyphs">vector&lt; Belle2::TRGCDCWire * &gt;</text>
<rect x="1211.0" y="2299.0" width="50.0" height="26.0" fill="#ffffff" stroke="#bfbfbf" stroke-width="2"/>
<text x="1236.0" y="2314.8" text-anchor="middle" textLength="29.1" lengthAdjust="spacingAndGlyphs">TFile</text>
<rect x="2538.0" y="2367.0" width="156.0" height="26.0" fill="#fff0f0" stroke="#ff0000" stroke-width="2"/>
<text x="2616.0" y="2382.8" text-anchor="middle" textLength="133.6" lengthAdjust="spacingAndGlyphs">TRGCDCPerfectFinder</text>
<rect x="2553.0" y="2553.0" width="126.0" height="25.0" fill="#fff0f0" stroke="#ff0000" stroke-width="2"/>
<text x="2616.0" y="2568.3" text-anchor="middle" textLength="102.6" lengthAdjust="spacingAndGlyphs">TRGCDCFitter3D</text>
<rect x="227.0" y="2709.0" width="190.0" height="40.0" fill="#ffffff" stroke="#ff4500" stroke-width="2"/>
<text x="322.0" y="2724.3" text-anchor="middle" textLength="167.8" lengthAdjust="spacingAndGlyphs">DBObjPtr&lt; Belle2::CDCTime</text>
<text x="322.0" y="2739.3" text-anchor="middle" textLength="44.8" lengthAdjust="spacingAndGlyphs">Zeros &gt;</text>
<rect x="229.0" y="2773.0" width="187.0" height="39.0" fill="#ffffff" stroke="#ff4500" stroke-width="2"/>
<text x="322.5" y="2787.8" text-anchor="middle" textLength="162.0" lengthAdjust="spacingAndGlyphs">DBObjPtr&lt; Belle2::CDCBad</text>
<text x="322.5" y="2802.8" text-anchor="middle" textLength="44.8" lengthAdjust="spacingAndGlyphs">Wires &gt;</text>
<rect x="227.0" y="2837.0" width="190.0" height="39.0" fill="#ffffff" stroke="#ff4500" stroke-width="2"/>
<text x="322.0" y="2851.8" text-anchor="middle" textLength="166.3" lengthAdjust="spacingAndGlyphs">DBObjPtr&lt; Belle2::CDCProp</text>
<text x="322.0" y="2866.8" text-anchor="middle" textLength="55.7" lengthAdjust="spacingAndGlyphs">Speeds &gt;</text>
<rect x="227.0" y="2901.0" width="190.0" height="39.0" fill="#ffffff" stroke="#ff4500" stroke-width="2"/>
<text x="322.0" y="2915.8" text-anchor="middle" textLength="167.8" lengthAdjust="spacingAndGlyphs">DBObjPtr&lt; Belle2::CDCTime</text>
<text x="322.0" y="2930.8" text-anchor="middle" textLength="46.4" lengthAdjust="spacingAndGlyphs">Walks &gt;</text>
<rect x="644.0" y="2939.0" width="127.0" height="23.0" fill="#fff0f0" stroke="#ff0000" stroke-width="2"/>
<text x="707.5" y="2953.3" text-anchor="middle" textLength="106.1" lengthAdjust="spacingAndGlyphs">CDCGeometryPar</text>
<rect x="201.0" y="2966.0" width="243.0" height="24.0" fill="#ffffff" stroke="#ff4500" stroke-width="2"/>
<text x="322.5" y="2980.8" text-anchor="middle" textLength="216.9" lengthAdjust="spacingAndGlyphs">DBObjPtr&lt; Belle2::CDCXtRelations &gt;</text>
<rect x="223.0" y="3016.0" width="199.0" height="40.0" fill="#ffffff" stroke="#ff4500" stroke-width="2"/>
<text x="322.5" y="3031.3" text-anchor="middle" textLength="175.8" lengthAdjust="spacingAndGlyphs">DBObjPtr&lt; Belle2::CDCSpace</text>
<text x="322.5" y="3046.3" text-anchor="middle" textLength="51.3" lengthAdjust="spacingAndGlyphs">Resols &gt;</text>
<rect x="223.0" y="3080.0" width="199.0" height="40.0" fill="#ffffff" stroke="#ff4500" stroke-width="2"/>
<text x="322.5" y="3095.3" text-anchor="middle" textLength="175.8" lengthAdjust="spacingAndGlyphs">DBObjPtr&lt; Belle2::CDCFudge</text>
<text x="322.5" y="3110.3" text-anchor="middle" textLength="110.7" lengthAdjust="spacingAndGlyphs">FactorsForSigma &gt;</text>
<rect x="221.0" y="3144.0" width="204.0" height="40.0" fill="#ffffff" stroke="#ff4500" stroke-width="2"/>
<text x="323.0" y="3159.3" text-anchor="middle" textLength="181.1" lengthAdjust="spacingAndGlyphs">DBArray&lt; Belle2::CDCChannel</text>
<text x="323.0" y="3174.3" text-anchor="middle" textLength="36.8" lengthAdjust="spacingAndGlyphs">Map &gt;</text>
<rect x="199.0" y="3209.0" width="248.0" height="24.0" fill="#ffffff" stroke="#ff4500" stroke-width="2"/>
<text x="323.0" y="3223.8" text-anchor="middle" textLength="223.0" lengthAdjust="spacingAndGlyphs">DBArray&lt; Belle2::CDCDisplacement &gt;</text>
<rect x="249.0" y="3260.0" width="148.0" height="40.0" fill="#ffffff" stroke="#ff4500" stroke-width="2"/>
<text x="323.0" y="3275.3" text-anchor="middle" textLength="123.2" lengthAdjust="spacingAndGlyphs">map&lt; Belle2::WireID,</text>
<text x="323.0" y="3290.3" text-anchor="middle" textLength="97.7" lengthAdjust="spacingAndGlyphs">unsigned short &gt;</text>
</svg></body></html>
